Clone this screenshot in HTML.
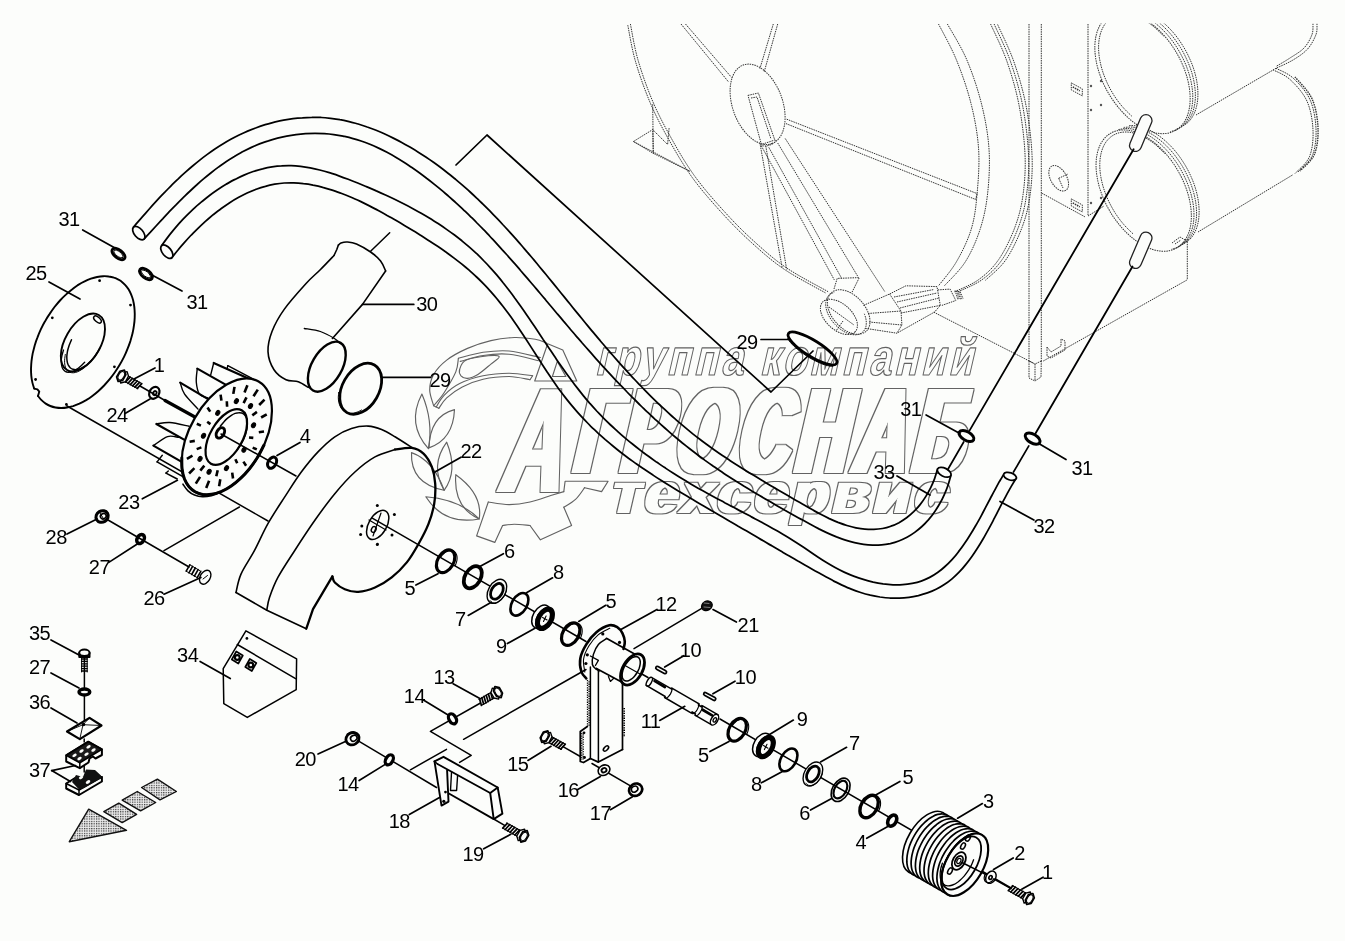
<!DOCTYPE html>
<html><head><meta charset="utf-8"><title>Схема</title>
<style>
html,body{margin:0;padding:0;background:#fcfdfb;}
body{width:1345px;height:941px;overflow:hidden;font-family:"Liberation Sans",sans-serif;}
svg{display:block;opacity:0.999;}
svg text{font-family:"Liberation Sans",sans-serif;}
</style></head><body>
<svg width="1345" height="941" viewBox="0 0 1345 941" stroke-linecap="round" stroke-linejoin="round">
<rect x="0" y="0" width="1345" height="941" fill="#fcfdfb"/>
<g>
<path d="M630.4 24C631.6 29.9 634.2 46.7 637.9 59.6C641.6 72.5 647.2 88.4 652.7 101.3C658.2 114.2 663.7 124.6 670.6 137C677.5 149.4 685.5 163.3 694.4 175.7C703.3 188.1 714.3 200.5 724.2 211.4C734.1 222.3 743.5 231.8 753.9 241.2C764.3 250.6 774.3 259.6 786.7 268C799.1 276.4 821.4 287.8 828.3 291.8" stroke="#333" stroke-width="1.0" fill="none" stroke-dasharray="1.5 0.9" stroke-linecap="butt"/>
<path d="M627.8 25.2C629 31.1 631.6 47.9 635.3 60.8C639 73.7 644.6 89.6 650.1 102.5C655.6 115.4 661 125.8 668 138.2C675 150.6 682.9 164.5 691.8 176.9C700.7 189.3 711.7 201.7 721.6 212.6C731.5 223.5 740.9 233 751.3 242.4C761.7 251.8 771.7 260.8 784.1 269.2C796.5 277.6 818.8 289 825.7 293" stroke="#333" stroke-width="1.0" fill="none" stroke-dasharray="1.5 0.9" stroke-linecap="butt"/>
<path d="M633.4 141.5L652.7 129.6L653.3 153.4Z" stroke="#333" stroke-width="1.0" fill="none" stroke-dasharray="1.5 0.9" stroke-linecap="butt"/>
<line x1="653.3" y1="153.4" x2="689.9" y2="171.3" stroke="#333" stroke-width="1.0" stroke-dasharray="1.5 0.9" stroke-linecap="butt"/>
<line x1="652.7" y1="104.3" x2="653.3" y2="153.4" stroke="#333" stroke-width="1.0" stroke-dasharray="1.5 0.9" stroke-linecap="butt"/>
<path d="M652.7 129.6L667.6 144.5L669.1 128.1" stroke="#333" stroke-width="1.0" fill="none" stroke-dasharray="1.5 0.9" stroke-linecap="butt"/>
<line x1="633.4" y1="141.5" x2="689.9" y2="171.3" stroke="#333" stroke-width="1.0" stroke-dasharray="1.5 0.9" stroke-linecap="butt"/>
<line x1="681" y1="24" x2="728.6" y2="82" stroke="#333" stroke-width="1.0" stroke-dasharray="1.5 0.9" stroke-linecap="butt"/>
<line x1="685.5" y1="24" x2="731.6" y2="77.5" stroke="#333" stroke-width="1.0" stroke-dasharray="1.5 0.9" stroke-linecap="butt"/>
<line x1="773.3" y1="24" x2="759.9" y2="68.6" stroke="#333" stroke-width="1.0" stroke-dasharray="1.5 0.9" stroke-linecap="butt"/>
<line x1="777.7" y1="24" x2="764.3" y2="71.5" stroke="#333" stroke-width="1.0" stroke-dasharray="1.5 0.9" stroke-linecap="butt"/>
<ellipse cx="757.6" cy="104.3" rx="41.8" ry="25" transform="rotate(70 757.6 104.3)" stroke="#333" stroke-width="1.0" fill="none" stroke-dasharray="1.5 0.9" stroke-linecap="butt"/>
<path d="M748 95.4L758.4 93L774.8 140L761.4 144.5Z" stroke="#333" stroke-width="1.0" fill="none" stroke-dasharray="1.5 0.9" stroke-linecap="butt"/>
<path d="M751 98L757 97L771 139" stroke="#333" stroke-width="1.0" fill="none" stroke-dasharray="1.5 0.9" stroke-linecap="butt"/>
<path d="M775.7 139.9C775.7 140.1 775.8 140.4 775.7 140.7C775.7 140.9 775.6 141.2 775.4 141.5C775.3 141.8 775 142 774.8 142.3C774.5 142.6 774.2 142.9 773.8 143.1C773.5 143.4 773.1 143.7 772.6 143.9C772.2 144.1 771.7 144.4 771.2 144.6C770.8 144.8 770.2 145 769.7 145.1C769.2 145.3 768.6 145.5 768.1 145.6C767.6 145.7 767 145.8 766.5 145.9C765.9 145.9 765.4 146 764.9 146C764.4 146 763.9 145.9 763.5 145.9C763.1 145.8 762.6 145.8 762.3 145.7C761.9 145.6 761.6 145.4 761.3 145.3C761 145.1 760.8 144.9 760.6 144.7C760.5 144.5 760.3 144.2 760.3 144.1" stroke="#333" stroke-width="1.0" fill="none" stroke-dasharray="1.5 0.9" stroke-linecap="butt"/>
<line x1="786.7" y1="119.2" x2="977.1" y2="193.6" stroke="#333" stroke-width="1.0" stroke-dasharray="1.5 0.9" stroke-linecap="butt"/>
<line x1="786" y1="123.6" x2="975.7" y2="199.5" stroke="#333" stroke-width="1.0" stroke-dasharray="1.5 0.9" stroke-linecap="butt"/>
<line x1="977.1" y1="193.6" x2="975.7" y2="199.5" stroke="#333" stroke-width="1.0" stroke-dasharray="1.5 0.9" stroke-linecap="butt"/>
<path d="M938.5 24C941.5 29.9 950.8 46.2 956.3 59.6C961.8 73 967.5 89.4 971.2 104.3C974.9 119.2 977.6 134.1 978.6 149C979.6 163.9 978.3 180.2 977.1 193.6C975.9 207 974.7 217.9 971.2 229.3C967.7 240.7 961.8 252.6 956.3 262C950.8 271.4 941.5 281.8 938.5 285.8" stroke="#333" stroke-width="1.0" fill="none" stroke-dasharray="1.5 0.9" stroke-linecap="butt"/>
<path d="M947.4 24C950.6 29.9 961 46.2 966.7 59.6C972.4 73 977.9 89.4 981.6 104.3C985.3 119.2 988 134.1 989 149C990 163.9 989.1 180.2 987.6 193.6C986.1 207 983.8 217.9 980.1 229.3C976.4 240.7 971.2 252.6 965.2 262C959.2 271.4 947.9 281.8 944.4 285.8" stroke="#333" stroke-width="1.0" fill="none" stroke-dasharray="1.5 0.9" stroke-linecap="butt"/>
<path d="M990.6 24C993.3 30.2 1002.1 47.5 1006.8 61C1011.5 74.5 1016 89.5 1019 105C1022 120.5 1024.3 139 1025 154C1025.7 169 1024.7 182.8 1023 195C1021.3 207.2 1019 216.2 1015 227C1011 237.8 1004.8 250.7 998.7 259.5C992.6 268.3 985.9 274.4 978.4 279.8C970.9 285.2 958.1 290 954 292" stroke="#333" stroke-width="1.0" fill="none" stroke-dasharray="1.5 0.9" stroke-linecap="butt"/>
<path d="M994.1 24C996.8 30.2 1005.6 47.5 1010.3 61C1015 74.5 1019.5 89.5 1022.5 105C1025.5 120.5 1027.8 139 1028.5 154C1029.2 169 1028.2 182.8 1026.5 195C1024.8 207.2 1022.5 216.2 1018.5 227C1014.5 237.8 1008.3 250.7 1002.2 259.5C996.1 268.3 989.4 274.4 981.9 279.8C974.4 285.2 961.6 290 957.5 292" stroke="#333" stroke-width="1.0" fill="none" stroke-dasharray="1.5 0.9" stroke-linecap="butt"/>
<path d="M997.6 24.5C1000.3 30.7 1009.1 48 1013.8 61.5C1018.5 75 1023 90 1026 105.5C1029 121 1031.3 139.5 1032 154.5C1032.7 169.5 1031.7 183.3 1030 195.5C1028.3 207.7 1026 216.8 1022 227.5C1018 238.2 1011.8 251.2 1005.7 260C999.6 268.8 988.8 276.9 985.4 280.3" stroke="#333" stroke-width="1.0" fill="none" stroke-dasharray="1.5 0.9" stroke-linecap="butt"/>
<line x1="759.9" y1="143" x2="782.2" y2="268" stroke="#333" stroke-width="1.0" stroke-dasharray="1.5 0.9" stroke-linecap="butt"/>
<line x1="765.8" y1="146" x2="786.7" y2="269.5" stroke="#333" stroke-width="1.0" stroke-dasharray="1.5 0.9" stroke-linecap="butt"/>
<line x1="761.4" y1="146" x2="834.3" y2="279.9" stroke="#333" stroke-width="1.0" stroke-dasharray="1.5 0.9" stroke-linecap="butt"/>
<line x1="768.8" y1="147.4" x2="841.7" y2="278.4" stroke="#333" stroke-width="1.0" stroke-dasharray="1.5 0.9" stroke-linecap="butt"/>
<line x1="777.7" y1="143" x2="858.1" y2="276.9" stroke="#333" stroke-width="1.0" stroke-dasharray="1.5 0.9" stroke-linecap="butt"/>
<line x1="785.2" y1="138.5" x2="884.9" y2="291.8" stroke="#333" stroke-width="1.0" stroke-dasharray="1.5 0.9" stroke-linecap="butt"/>
<ellipse cx="838.9" cy="316.9" rx="22" ry="13" transform="rotate(42 838.9 316.9)" stroke="#333" stroke-width="1.0" fill="none" stroke-dasharray="1.5 0.9" stroke-linecap="butt"/>
<ellipse cx="848.7" cy="312" rx="26" ry="16.5" transform="rotate(48 848.7 312)" stroke="#333" stroke-width="1.0" fill="none" stroke-dasharray="1.5 0.9" stroke-linecap="butt"/>
<path d="M864.3 313.8C864.6 314.6 865.5 316.9 865.8 318.4C866.1 319.8 866.3 321.3 866.3 322.7C866.3 324.1 866.2 325.4 865.9 326.6C865.6 327.8 865.1 328.9 864.5 329.9C864 330.9 863.2 331.7 862.3 332.4C861.5 333.1 860.5 333.7 859.4 334.1C858.3 334.5 857.1 334.7 855.8 334.8C854.5 334.8 853.1 334.7 851.7 334.5C850.3 334.2 848.9 333.8 847.4 333.2C846 332.6 844.5 331.9 843 331C841.6 330.1 840.2 329.1 838.8 328C837.4 326.9 836.1 325.6 834.9 324.3C833.7 323 832.5 321.6 831.5 320.2C830.5 318.7 829.6 317.2 828.8 315.7C828 314.2 827.4 312.6 826.9 311.1C826.4 309.6 826 308 825.9 306.6C825.7 305.2 825.6 303.7 825.8 302.4C825.9 301.1 826.2 299.9 826.6 298.8C827.1 297.7 827.7 296.7 828.4 295.8C829.1 295 830 294.3 830.9 293.7C831.9 293.2 833.7 292.7 834.2 292.5" stroke="#333" stroke-width="1.0" fill="none" stroke-dasharray="1.5 0.9" stroke-linecap="butt"/>
<line x1="829" y1="307" x2="854" y2="325" stroke="#333" stroke-width="1.0" stroke-dasharray="1.5 0.9" stroke-linecap="butt"/>
<line x1="843" y1="321" x2="836" y2="331" stroke="#333" stroke-width="1.0" stroke-dasharray="1.5 0.9" stroke-linecap="butt"/>
<path d="M834 289L837.2 278.4L859.3 277.6L852 292.3" stroke="#333" stroke-width="1.0" fill="none" stroke-dasharray="1.5 0.9" stroke-linecap="butt"/>
<path d="M863.4 305.4L889.6 294L901 311.1L901.9 325L896.9 333.2L865 328.3" stroke="#333" stroke-width="1.0" fill="none" stroke-dasharray="1.5 0.9" stroke-linecap="butt"/>
<line x1="868" y1="313.5" x2="901" y2="311" stroke="#333" stroke-width="1.0" stroke-dasharray="1.5 0.9" stroke-linecap="butt"/>
<line x1="869" y1="322" x2="901.9" y2="325" stroke="#333" stroke-width="1.0" stroke-dasharray="1.5 0.9" stroke-linecap="butt"/>
<path d="M889.6 294L905.9 285.8L937 286.6L940.3 305.4L934.6 312L896.9 333.2" stroke="#333" stroke-width="1.0" fill="none" stroke-dasharray="1.5 0.9" stroke-linecap="butt"/>
<line x1="894" y1="297" x2="934" y2="289.5" stroke="#333" stroke-width="1.0" stroke-dasharray="1.5 0.9" stroke-linecap="butt"/>
<line x1="897" y1="302" x2="937" y2="293" stroke="#333" stroke-width="1.0" stroke-dasharray="1.5 0.9" stroke-linecap="butt"/>
<line x1="900" y1="308" x2="939" y2="298" stroke="#333" stroke-width="1.0" stroke-dasharray="1.5 0.9" stroke-linecap="butt"/>
<line x1="901" y1="313" x2="940.3" y2="305.4" stroke="#333" stroke-width="1.0" stroke-dasharray="1.5 0.9" stroke-linecap="butt"/>
<path d="M937.8 289.9L950.1 289.1L955.8 300.5L941.9 305.4" stroke="#333" stroke-width="1.0" fill="none" stroke-dasharray="1.5 0.9" stroke-linecap="butt"/>
<line x1="955" y1="290.5" x2="958" y2="300" stroke="#333" stroke-width="0.9" stroke-dasharray="1.5 0.9" stroke-linecap="butt"/>
<line x1="956.3" y1="290.8" x2="959.3" y2="299.7" stroke="#333" stroke-width="0.9" stroke-dasharray="1.5 0.9" stroke-linecap="butt"/>
<line x1="957.6" y1="291.1" x2="960.6" y2="299.4" stroke="#333" stroke-width="0.9" stroke-dasharray="1.5 0.9" stroke-linecap="butt"/>
<line x1="958.9" y1="291.4" x2="961.9" y2="299.1" stroke="#333" stroke-width="0.9" stroke-dasharray="1.5 0.9" stroke-linecap="butt"/>
<line x1="960.2" y1="291.7" x2="963.2" y2="298.8" stroke="#333" stroke-width="0.9" stroke-dasharray="1.5 0.9" stroke-linecap="butt"/>
<line x1="1029" y1="24" x2="1029" y2="361" stroke="#333" stroke-width="1.0" stroke-dasharray="1.5 0.9" stroke-linecap="butt"/>
<line x1="1041.3" y1="24" x2="1041.3" y2="361" stroke="#333" stroke-width="1.0" stroke-dasharray="1.5 0.9" stroke-linecap="butt"/>
<line x1="1088" y1="24" x2="1088" y2="216" stroke="#333" stroke-width="1.0" stroke-dasharray="1.5 0.9" stroke-linecap="butt"/>
<line x1="1041.5" y1="193" x2="1085.2" y2="217" stroke="#333" stroke-width="1.0" stroke-dasharray="1.5 0.9" stroke-linecap="butt"/>
<line x1="1088" y1="216" x2="1104" y2="206" stroke="#333" stroke-width="1.0" stroke-dasharray="1.5 0.9" stroke-linecap="butt"/>
<line x1="933.8" y1="312.2" x2="1033.2" y2="363" stroke="#333" stroke-width="1.0" stroke-dasharray="1.5 0.9" stroke-linecap="butt"/>
<line x1="1043.3" y1="361" x2="1187.3" y2="279.8" stroke="#333" stroke-width="1.0" stroke-dasharray="1.5 0.9" stroke-linecap="butt"/>
<line x1="1187.3" y1="239" x2="1187.3" y2="280" stroke="#333" stroke-width="1.0" stroke-dasharray="1.5 0.9" stroke-linecap="butt"/>
<path d="M1029 361L1029 378L1035 381L1041 377L1041.3 361" stroke="#333" stroke-width="1.0" fill="none" stroke-dasharray="1.5 0.9" stroke-linecap="butt"/>
<path d="M1029 361L1035 364L1041.3 361" stroke="#333" stroke-width="1.0" fill="none" stroke-dasharray="1.5 0.9" stroke-linecap="butt"/>
<line x1="1035" y1="364" x2="1035" y2="381" stroke="#333" stroke-width="1.0" stroke-dasharray="1.5 0.9" stroke-linecap="butt"/>
<path d="M1047 347L1047 356L1051 358L1065 350L1065 341L1061 339L1061 346L1051 352L1047 347" stroke="#333" stroke-width="1.0" fill="none" stroke-dasharray="1.5 0.9" stroke-linecap="butt"/>
<ellipse cx="1058.7" cy="178.3" rx="14" ry="8" transform="rotate(60 1058.7 178.3)" stroke="#333" stroke-width="1.0" fill="none" stroke-dasharray="1.5 0.9" stroke-linecap="butt"/>
<line x1="1058.7" y1="178.3" x2="1068" y2="174" stroke="#333" stroke-width="1.0" stroke-dasharray="1.5 0.9" stroke-linecap="butt"/>
<line x1="1058.7" y1="178.3" x2="1063" y2="188" stroke="#333" stroke-width="1.0" stroke-dasharray="1.5 0.9" stroke-linecap="butt"/>
<path d="M1071.3 82.9L1082.3 88.9L1082.3 95.9L1071.3 89.9Z" stroke="#333" stroke-width="1.0" fill="none" stroke-dasharray="1.5 0.9" stroke-linecap="butt"/>
<line x1="1072.8" y1="86.9" x2="1079.8" y2="90.9" stroke="#333" stroke-width="1.6" stroke-dasharray="1.5 0.9" stroke-linecap="butt"/>
<path d="M1071.3 198.9L1082.3 204.9L1082.3 211.9L1071.3 205.9Z" stroke="#333" stroke-width="1.0" fill="none" stroke-dasharray="1.5 0.9" stroke-linecap="butt"/>
<line x1="1072.8" y1="202.9" x2="1079.8" y2="206.9" stroke="#333" stroke-width="1.6" stroke-dasharray="1.5 0.9" stroke-linecap="butt"/>
<circle cx="1091" cy="86" r="1.2" fill="#555"/>
<circle cx="1101" cy="81" r="1.2" fill="#555"/>
<circle cx="1091" cy="110" r="1.2" fill="#555"/>
<circle cx="1101" cy="105" r="1.2" fill="#555"/>
<circle cx="1091" cy="203" r="1.2" fill="#555"/>
<circle cx="1101" cy="198" r="1.2" fill="#555"/>
<clipPath id="cl"><rect x="0" y="23.5" width="1345" height="920"/></clipPath><g clip-path="url(#cl)">
<ellipse cx="1142.5" cy="73" rx="66.2" ry="39.6" transform="rotate(60 1142.5 73)" stroke="#333" stroke-width="1.0" fill="none" stroke-dasharray="1.5 0.9" stroke-linecap="butt"/>
<path d="M1117.1 12C1118.6 11.8 1122.8 10.8 1125.9 10.9C1129 11 1132.3 11.5 1135.6 12.5C1138.9 13.5 1142.4 15 1145.8 16.9C1149.2 18.7 1152.6 21.1 1155.9 23.7C1159.2 26.4 1162.5 29.4 1165.5 32.7C1168.6 36 1171.5 39.7 1174.2 43.5C1176.9 47.3 1179.4 51.5 1181.5 55.6C1183.7 59.8 1185.7 64.1 1187.2 68.4C1188.8 72.7 1190.1 77.1 1191 81.4C1191.9 85.6 1192.5 89.8 1192.7 93.8C1192.9 97.8 1192.7 101.7 1192.2 105.3C1191.7 108.9 1190.8 112.3 1189.5 115.2C1188.3 118.2 1186.7 120.9 1184.9 123.2C1183 125.4 1180.8 127.3 1178.4 128.7C1175.9 130.2 1171.7 131.2 1170.3 131.7" stroke="#333" stroke-width="1.0" fill="none" stroke-dasharray="1.5 0.9" stroke-linecap="butt"/>
<path d="M1122.5 9.8C1124 9.8 1128.6 9.2 1131.9 9.6C1135.1 10.1 1138.6 11 1142 12.3C1145.5 13.7 1149 15.6 1152.5 17.8C1155.9 20.1 1159.4 22.8 1162.7 25.8C1165.9 28.8 1169.2 32.3 1172.2 35.9C1175.1 39.6 1178 43.6 1180.5 47.6C1183 51.7 1185.3 56.1 1187.2 60.5C1189.2 64.8 1190.8 69.3 1192.1 73.7C1193.3 78.1 1194.3 82.6 1194.8 86.8C1195.3 91 1195.5 95.2 1195.3 99.1C1195 103 1194.4 106.7 1193.4 110C1192.5 113.3 1191.1 116.3 1189.4 118.9C1187.8 121.5 1185.7 123.8 1183.4 125.6C1181.1 127.3 1177 128.9 1175.7 129.5" stroke="#333" stroke-width="1.0" fill="none" stroke-dasharray="1.5 0.9" stroke-linecap="butt"/>
<path d="M1127.9 7.9C1129.5 8 1134 7.9 1137.2 8.6C1140.4 9.2 1143.7 10.4 1147 11.9C1150.3 13.4 1153.7 15.3 1156.9 17.6C1160.2 19.9 1163.5 22.6 1166.6 25.6C1169.7 28.5 1172.8 31.9 1175.6 35.4C1178.4 38.9 1181 42.8 1183.4 46.7C1185.8 50.6 1188 54.8 1189.8 59C1191.7 63.1 1193.3 67.4 1194.5 71.6C1195.7 75.8 1196.7 80.1 1197.2 84.1C1197.8 88.2 1198 92.2 1197.9 96C1197.8 99.7 1197.3 103.4 1196.5 106.6C1195.7 109.9 1194.6 113 1193.1 115.6C1191.7 118.2 1189.9 120.6 1187.9 122.5C1185.8 124.4 1182.1 126.3 1180.9 127.1" stroke="#333" stroke-width="1.0" fill="none" stroke-dasharray="1.5 0.9" stroke-linecap="butt"/>
<path d="M1131.8 116.2C1130.2 114.7 1125.4 110.2 1122.5 106.8C1119.5 103.4 1116.7 99.6 1114.2 95.7C1111.7 91.8 1109.4 87.6 1107.4 83.4C1105.5 79.2 1103.7 74.9 1102.4 70.6C1101.1 66.4 1100.1 62.1 1099.4 57.9C1098.8 53.8 1098.5 49.7 1098.6 46C1098.7 42.2 1099.2 38.5 1100 35.3C1100.8 32 1102 29 1103.5 26.4C1105 23.8 1106.9 21.6 1109 19.8C1111.1 18 1113.6 16.6 1116.2 15.7C1118.9 14.8 1121.8 14.4 1124.8 14.4C1127.8 14.4 1131 15 1134.3 15.9C1137.5 16.9 1140.9 18.4 1144.2 20.2C1147.6 22.1 1151 24.4 1154.2 27C1157.4 29.7 1162.1 34.6 1163.7 36.1" stroke="#333" stroke-width="1.0" fill="none" stroke-dasharray="1.5 0.9" stroke-linecap="butt"/>
<ellipse cx="1143.7" cy="190.6" rx="66.2" ry="39.6" transform="rotate(60 1143.7 190.6)" stroke="#333" stroke-width="1.0" fill="none" stroke-dasharray="1.5 0.9" stroke-linecap="butt"/>
<path d="M1118.3 129.6C1119.8 129.4 1124 128.4 1127.1 128.5C1130.2 128.6 1133.5 129.1 1136.8 130.1C1140.1 131.1 1143.6 132.6 1147 134.5C1150.4 136.3 1153.8 138.7 1157.1 141.3C1160.4 144 1163.7 147 1166.7 150.3C1169.8 153.6 1172.7 157.3 1175.4 161.1C1178.1 164.9 1180.6 169.1 1182.7 173.2C1184.9 177.4 1186.9 181.7 1188.4 186C1190 190.3 1191.3 194.7 1192.2 199C1193.1 203.2 1193.7 207.4 1193.9 211.4C1194.1 215.4 1193.9 219.3 1193.4 222.9C1192.9 226.5 1192 229.9 1190.7 232.8C1189.5 235.8 1187.9 238.5 1186.1 240.8C1184.2 243 1182 244.9 1179.6 246.3C1177.1 247.8 1172.9 248.8 1171.5 249.3" stroke="#333" stroke-width="1.0" fill="none" stroke-dasharray="1.5 0.9" stroke-linecap="butt"/>
<path d="M1123.7 127.4C1125.2 127.4 1129.8 126.8 1133.1 127.2C1136.3 127.7 1139.8 128.6 1143.2 129.9C1146.7 131.3 1150.2 133.2 1153.7 135.4C1157.1 137.7 1160.6 140.4 1163.9 143.4C1167.1 146.4 1170.4 149.9 1173.4 153.5C1176.3 157.2 1179.2 161.2 1181.7 165.2C1184.2 169.3 1186.5 173.7 1188.4 178.1C1190.4 182.4 1192 186.9 1193.3 191.3C1194.5 195.7 1195.5 200.2 1196 204.4C1196.5 208.6 1196.7 212.8 1196.5 216.7C1196.2 220.6 1195.6 224.3 1194.6 227.6C1193.7 230.9 1192.3 233.9 1190.6 236.5C1189 239.1 1186.9 241.4 1184.6 243.2C1182.3 244.9 1178.2 246.5 1176.9 247.1" stroke="#333" stroke-width="1.0" fill="none" stroke-dasharray="1.5 0.9" stroke-linecap="butt"/>
<path d="M1129.1 125.5C1130.7 125.6 1135.2 125.5 1138.4 126.2C1141.6 126.8 1144.9 128 1148.2 129.5C1151.5 131 1154.9 132.9 1158.1 135.2C1161.4 137.5 1164.7 140.2 1167.8 143.2C1170.9 146.1 1174 149.5 1176.8 153C1179.6 156.5 1182.2 160.4 1184.6 164.3C1187 168.2 1189.2 172.4 1191 176.6C1192.9 180.7 1194.5 185 1195.7 189.2C1196.9 193.4 1197.9 197.7 1198.4 201.7C1199 205.8 1199.2 209.8 1199.1 213.6C1199 217.3 1198.5 221 1197.7 224.2C1196.9 227.5 1195.8 230.6 1194.3 233.2C1192.9 235.8 1191.1 238.2 1189.1 240.1C1187 242 1183.3 243.9 1182.1 244.7" stroke="#333" stroke-width="1.0" fill="none" stroke-dasharray="1.5 0.9" stroke-linecap="butt"/>
<path d="M1133 233.8C1131.4 232.3 1126.6 227.8 1123.7 224.4C1120.7 221 1117.9 217.2 1115.4 213.3C1112.9 209.4 1110.6 205.2 1108.6 201C1106.7 196.8 1104.9 192.5 1103.6 188.2C1102.3 184 1101.3 179.7 1100.6 175.5C1100 171.4 1099.7 167.3 1099.8 163.6C1099.9 159.8 1100.4 156.1 1101.2 152.9C1102 149.6 1103.2 146.6 1104.7 144C1106.2 141.4 1108.1 139.2 1110.2 137.4C1112.3 135.6 1114.8 134.2 1117.4 133.3C1120.1 132.4 1123 132 1126 132C1129 132 1132.2 132.6 1135.5 133.5C1138.7 134.5 1142.1 136 1145.4 137.8C1148.8 139.7 1152.2 142 1155.4 144.6C1158.6 147.3 1163.3 152.2 1164.9 153.7" stroke="#333" stroke-width="1.0" fill="none" stroke-dasharray="1.5 0.9" stroke-linecap="butt"/>
<line x1="1196" y1="115" x2="1276" y2="68.3" stroke="#333" stroke-width="1.0" stroke-dasharray="1.5 0.9" stroke-linecap="butt"/>
<line x1="1198" y1="232" x2="1293" y2="174.7" stroke="#333" stroke-width="1.0" stroke-dasharray="1.5 0.9" stroke-linecap="butt"/>
<path d="M1317 23.6C1316.8 25.4 1317.6 30.3 1316 34.5C1314.4 38.7 1311.4 44.8 1307.6 49C1303.8 53.2 1298.3 56.8 1293 60C1287.7 63.2 1278.8 66.9 1276 68.3" stroke="#333" stroke-width="1.0" fill="none" stroke-dasharray="1.5 0.9" stroke-linecap="butt"/>
<path d="M1313 23.6C1312.8 25.4 1313.5 30.4 1312 34.5C1310.5 38.6 1307.7 44.1 1304 48C1300.3 51.9 1294.7 54.9 1290 58C1285.3 61.1 1278.3 65.1 1276 66.5" stroke="#333" stroke-width="1.0" fill="none" stroke-dasharray="1.5 0.9" stroke-linecap="butt"/>
<path d="M1276 68.3C1278.8 69.9 1287.3 72.8 1293 78C1298.7 83.2 1306.2 91.2 1310 99.7C1313.8 108.2 1315.6 119.4 1316 128.7C1316.4 138 1315.4 148.1 1312.4 155.3C1309.4 162.5 1300.4 169.2 1298 172" stroke="#333" stroke-width="1.0" fill="none" stroke-dasharray="1.5 0.9" stroke-linecap="butt"/>
<path d="M1273 69.8C1275.8 71.4 1284.3 74.3 1290 79.5C1295.7 84.7 1303.2 92.8 1307 101.2C1310.8 109.7 1312.6 120.9 1313 130.2C1313.4 139.5 1312.4 149.6 1309.4 156.8C1306.4 164 1297.4 170.7 1295 173.5" stroke="#333" stroke-width="1.0" fill="none" stroke-dasharray="1.5 0.9" stroke-linecap="butt"/>
<path d="M1295 77C1297.8 80.6 1308.2 90.2 1312 98.7C1315.8 107.2 1317.6 118.4 1318 127.7C1318.4 137 1317.4 147.1 1314.4 154.3C1311.4 161.5 1302.4 168.2 1300 171" stroke="#333" stroke-width="1.4" fill="none" stroke-dasharray="1.5 0.9" stroke-linecap="butt"/>
</g>
<line x1="1146" y1="120.5" x2="1135.5" y2="145.5" stroke="#222" stroke-width="13.2" stroke-linecap="round"/>
<line x1="1146" y1="120.5" x2="1135.5" y2="145.5" stroke="#fcfdfb" stroke-width="10.6" stroke-linecap="round"/>
<line x1="1146" y1="238" x2="1135.5" y2="262.5" stroke="#222" stroke-width="13.2" stroke-linecap="round"/>
<line x1="1146" y1="238" x2="1135.5" y2="262.5" stroke="#fcfdfb" stroke-width="10.6" stroke-linecap="round"/>
<path d="M1172 243L1180 237L1186 240.5L1178 247" stroke="#333" stroke-width="1.0" fill="none" stroke-dasharray="1.5 0.9" stroke-linecap="butt"/>
<path d="M1175 244L1181 240" stroke="#333" stroke-width="1.0" fill="none" stroke-dasharray="1.5 0.9" stroke-linecap="butt"/>
</g>
<defs>
<filter id="wf1" x="-5%" y="-20%" width="110%" height="140%" filterUnits="objectBoundingBox">
<feMorphology in="SourceAlpha" operator="dilate" radius="1 0" result="fat"/>
<feMorphology in="fat" operator="dilate" radius="1.25 1.25" result="fat2"/>
<feComposite in="fat2" in2="fat" operator="out" result="ring"/>
<feFlood flood-color="#626262" result="col"/><feComposite in="col" in2="ring" operator="in"/></filter>
<filter id="wf2" x="-5%" y="-20%" width="110%" height="140%" filterUnits="objectBoundingBox">
<feMorphology in="SourceAlpha" operator="dilate" radius="3.6 0" result="fat"/>
<feMorphology in="fat" operator="dilate" radius="1.25 1.25" result="fat2"/>
<feComposite in="fat2" in2="fat" operator="out" result="ring"/>
<feFlood flood-color="#626262" result="col"/><feComposite in="col" in2="ring" operator="in"/></filter>
<filter id="wf3" x="-5%" y="-20%" width="110%" height="140%" filterUnits="objectBoundingBox">
<feMorphology in="SourceAlpha" operator="dilate" radius="3 0" result="fat"/>
<feMorphology in="fat" operator="dilate" radius="1.25 1.25" result="fat2"/>
<feComposite in="fat2" in2="fat" operator="out" result="ring"/>
<feFlood flood-color="#626262" result="col"/><feComposite in="col" in2="ring" operator="in"/></filter>
<filter id="wf4" x="-5%" y="-20%" width="110%" height="140%" filterUnits="objectBoundingBox">
<feMorphology in="SourceAlpha" operator="dilate" radius="1.5 0.3" result="fat"/>
<feMorphology in="fat" operator="dilate" radius="1.25 1.25" result="fat2"/>
<feComposite in="fat2" in2="fat" operator="out" result="ring"/>
<feFlood flood-color="#626262" result="col"/><feComposite in="col" in2="ring" operator="in"/></filter>
</defs>
<text transform="translate(594.5 375.3) skewX(-13) scale(0.78 1)" font-size="51.5" font-weight="bold" letter-spacing="3.6" fill="none" stroke="#626262" stroke-width="1.25">группа компаний</text>
<g filter="url(#wf3)"><text transform="translate(497 491.8) skewX(-13) scale(0.562 1)" font-size="149.5" font-weight="bold" letter-spacing="0" fill="#000">А</text></g>
<g filter="url(#wf2)"><text transform="translate(570.5 473) skewX(-13) scale(0.582 1)" font-size="122" font-weight="bold" letter-spacing="12.2" fill="#000">ГРОСНАБ</text></g>
<g filter="url(#wf4)"><text transform="translate(608.5 513) skewX(-13) scale(1.045 1)" font-size="57.5" font-weight="bold" letter-spacing="3.8" fill="#000">техсервис</text></g>
<path d="M433.6 405.7C433 403.1 429.7 395.3 429.7 390.1C429.7 384.9 430.8 379.5 433.6 374.5C436.5 369.5 441 364.5 446.7 360.1C452.3 355.8 460.1 351.7 467.5 348.4C474.9 345.2 483.1 342.4 490.9 340.6C498.7 338.8 507 337.7 514.3 337.5C521.7 337.3 529.8 338.4 535.2 339.3C540.6 340.3 544.9 342.6 546.9 343.2" stroke="#626262" stroke-width="1.15" fill="none" />
<path d="M436.2 407C437.5 405.1 440.1 399.2 444.1 395.3C448 391.4 453.2 386.8 459.7 383.6C466.2 380.3 474.9 377.5 483.1 375.8C491.3 374 500.9 373.2 509.1 373.2C517.4 373.2 528.7 375.3 532.6 375.8" stroke="#626262" stroke-width="1.15" fill="none" />
<path d="M438.8 408.3C440.1 406.6 442.8 401.5 446.7 397.9C450.6 394.3 456.2 390.1 462.3 387C468.4 383.8 475.3 380.9 483.1 379.2C490.9 377.4 501.3 376.5 509.1 376.5C517 376.6 526.5 379.2 530 379.7" stroke="#626262" stroke-width="1.15" fill="none" />
<path d="M532.6 375.8L530 379.7" stroke="#626262" stroke-width="1.15" fill="none" />
<path d="M433.6 405.7L436.2 407L438.8 408.3" stroke="#626262" stroke-width="1.15" fill="none" />
<path d="M458.4 358.3C457.9 360.6 458.2 366.1 455.8 371.9C453.4 377.6 447.7 387.1 444.1 392.7C440.5 398.2 435.8 403.1 434.2 405.2" stroke="#626262" stroke-width="1.15" fill="none" />
<path d="M458.4 358.3C462.5 357.3 474.6 353.6 483.1 352.3C491.6 351.1 499.6 350.2 509.1 351C518.7 351.9 535.2 356.5 540.4 357.5" stroke="#626262" stroke-width="1.15" fill="none" />
<path d="M460.2 361.4C464 360.5 474.9 356.7 483.1 355.5C491.3 354.2 499.9 353.3 509.1 354.2C518.3 355 533.4 359.6 538.3 360.7" stroke="#626262" stroke-width="1.15" fill="none" />
<path d="M459.7 369.3C460.5 366.7 461.4 362.4 466.2 360.1C471 357.9 482.8 356.3 488.3 355.7C493.8 355.2 498.8 355.4 499.2 356.8C499.7 358.2 494.5 361.1 490.9 364.1C487.4 367 481.8 372.1 477.9 374.5C474 376.9 470.3 378.2 467.5 378.4C464.7 378.6 462.3 377.3 461 375.8C459.7 374.2 458.8 371.9 459.7 369.3Z" stroke="#626262" stroke-width="1.15" fill="none" />
<path d="M547.7 343.7L562.8 350L576.8 381L534.7 381Z" stroke="#626262" stroke-width="1.15" fill="none" />
<path d="M557.3 361.4L565.9 376.5L552.4 376.5Z" stroke="#626262" stroke-width="1.15" fill="none" />
<path d="M421.9 394Q406.3 423.9 428.4 448.7Q433.6 421.3 421.9 394Z" fill="none" stroke="#626262" stroke-width="1.15"/>
<path d="M454.5 409.6Q429.7 416.1 429 447.9Q453.2 439.6 454.5 409.6Z" fill="none" stroke="#626262" stroke-width="1.15"/>
<path d="M411.5 452.6Q410.2 483.8 444.1 490.3Q433.6 460.4 411.5 452.6Z" fill="none" stroke="#626262" stroke-width="1.15"/>
<path d="M446.7 442.2Q429.7 465.6 444.1 490.3Q458.4 470.8 446.7 442.2Z" fill="none" stroke="#626262" stroke-width="1.15"/>
<path d="M455.8 474.7Q453.2 507.2 479.2 519Q483.1 494.2 455.8 474.7Z" fill="none" stroke="#626262" stroke-width="1.15"/>
<path d="M425.8 496.8Q444.1 525.5 479.2 519Q459.7 499.4 425.8 496.8Z" fill="none" stroke="#626262" stroke-width="1.15"/>
<path d="M488.3 502C491.8 502.5 502.2 504.6 509.1 504.6C516.1 504.6 523 503.6 530 502C536.9 500.5 545.2 497.3 550.8 495.5C556.4 493.8 561.6 492.3 563.8 491.6" stroke="#626262" stroke-width="1.15" fill="none" />
<path d="M563.8 491.6L565.1 481.2L608.1 481.2L601.6 491.6L584.6 487.7" stroke="#626262" stroke-width="1.15" fill="none" />
<path d="M584.6 487.7C583.1 489.7 579 496.2 575.5 499.4C572.1 502.7 565.8 505.9 563.8 507.2" stroke="#626262" stroke-width="1.15" fill="none" />
<path d="M563.8 507.2L571.6 525.5L540.4 539.8L530 525.5" stroke="#626262" stroke-width="1.15" fill="none" />
<path d="M530 525.5C527.4 525.3 518.9 524.2 514.3 524.2C509.8 524.2 504.6 525.3 502.6 525.5" stroke="#626262" stroke-width="1.15" fill="none" />
<path d="M502.6 525.5L494.8 542.4L476.6 535.9L488.3 502" stroke="#626262" stroke-width="1.15" fill="none" />
<path d="M133.6 227C134.6 225.8 137.7 222.2 139.7 219.9C141.7 217.5 143.8 215.1 145.9 212.8C148 210.4 150.1 208.1 152.2 205.7C154.3 203.4 156.4 201.1 158.6 198.7C160.7 196.4 162.9 194.1 165.1 191.9C167.3 189.6 169.5 187.4 171.7 185.1C174 182.9 176.2 180.7 178.5 178.6C180.8 176.4 183.1 174.3 185.5 172.2C187.8 170.1 190.2 168 192.6 166C195 164 197.4 162 199.8 160.1C202.3 158.1 204.8 156.2 207.3 154.4C209.8 152.6 212.3 150.8 214.9 149C217.5 147.3 220.1 145.6 222.8 144C225.4 142.4 228.1 140.8 230.8 139.3C233.5 137.8 236.3 136.4 239.1 135C241.9 133.7 244.7 132.4 247.6 131.1C250.4 129.9 253.3 128.8 256.3 127.7C259.2 126.6 262.2 125.6 265.2 124.7C268.2 123.8 271.3 123 274.3 122.2C277.4 121.5 280.5 120.8 283.6 120.2C286.7 119.6 289.8 119.1 293 118.7C296.1 118.3 299.2 118 302.4 117.8C305.5 117.5 308.7 117.4 311.8 117.4C315 117.3 318.1 117.4 321.3 117.5C324.4 117.7 327.5 118 330.6 118.3C333.8 118.7 336.9 119.1 339.9 119.7C343 120.2 346.1 120.9 349.1 121.6C352.2 122.3 355.2 123.2 358.2 124C361.2 124.9 364.2 125.9 367.2 127C370.2 128 373.1 129.1 376.1 130.3C379 131.5 381.9 132.7 384.8 134C387.6 135.3 390.5 136.7 393.3 138.1C396.1 139.5 398.9 140.9 401.7 142.4C404.5 143.9 407.2 145.5 409.9 147.1C412.6 148.7 415.3 150.3 417.9 151.9C420.6 153.6 423.2 155.3 425.8 157C428.4 158.8 430.9 160.5 433.5 162.3C436 164.1 438.5 165.9 441 167.8C443.5 169.7 445.9 171.6 448.3 173.5C450.8 175.4 453.2 177.4 455.6 179.3C458 181.3 460.3 183.3 462.7 185.4C465 187.4 467.3 189.5 469.6 191.5C471.9 193.6 474.2 195.7 476.4 197.9C478.7 200 480.9 202.2 483.2 204.3C485.4 206.5 487.6 208.7 489.8 210.9C492 213.2 494.1 215.4 496.3 217.7C498.5 219.9 500.6 222.2 502.7 224.5C504.9 226.8 507 229.1 509.1 231.4C511.2 233.7 513.3 236.1 515.4 238.4C517.5 240.8 519.5 243.2 521.6 245.5C523.6 247.9 525.7 250.3 527.7 252.7C529.8 255.1 531.8 257.5 533.9 259.9C535.9 262.3 537.9 264.8 539.9 267.2C541.9 269.6 544 272.1 546 274.5C548 277 550 279.4 552 281.9C554 284.3 556 286.8 558 289.3C560 291.7 562 294.2 564 296.6C566 299.1 568 301.6 570 304C571.9 306.5 573.9 309 575.9 311.4C578 313.9 580 316.3 582 318.8C584 321.2 586 323.7 588 326.1C590 328.6 592 331 594.1 333.4C596.1 335.8 598.1 338.3 600.2 340.7C602.2 343.1 604.3 345.5 606.3 347.9C608.4 350.3 610.4 352.7 612.5 355C614.6 357.4 616.7 359.8 618.7 362.1C620.8 364.5 622.9 366.8 625 369.1C627.2 371.4 629.3 373.8 631.4 376.1C633.5 378.4 635.7 380.6 637.8 382.9C640 385.2 642.2 387.4 644.3 389.6C646.5 391.9 648.7 394.1 650.9 396.3C653.1 398.5 655.4 400.7 657.6 402.8C659.9 405 662.1 407.1 664.4 409.2C666.7 411.4 668.9 413.5 671.2 415.5C673.6 417.6 675.9 419.7 678.2 421.7C680.6 423.7 682.9 425.7 685.3 427.7C687.7 429.7 690.1 431.6 692.5 433.6C694.9 435.5 697.3 437.4 699.8 439.3C702.2 441.2 704.7 443 707.2 444.8C709.7 446.7 712.2 448.4 714.8 450.2C717.3 452 719.9 453.8 722.4 455.5C725 457.2 727.6 459 730.2 460.7C732.8 462.4 735.4 464.1 738.1 465.7C740.7 467.4 743.4 469.1 746 470.7C748.7 472.4 751.4 474 754.1 475.6C756.8 477.3 759.5 478.9 762.2 480.5C764.9 482.1 767.6 483.7 770.4 485.4C773.1 487 775.9 488.6 778.6 490.2C781.4 491.8 784.2 493.4 786.9 495C789.7 496.6 792.5 498.3 795.3 499.9C798.1 501.5 800.9 503.2 803.7 504.8C806.5 506.4 809.3 508 812.1 509.6C815 511.2 817.8 512.8 820.7 514.3C823.5 515.8 826.4 517.2 829.3 518.6C832.2 519.9 835.1 521.2 838 522.4C841 523.5 844 524.6 846.9 525.5C849.9 526.4 852.9 527.2 855.9 527.8C858.9 528.4 861.9 528.9 864.9 529.1C867.9 529.4 870.9 529.5 873.8 529.4C876.7 529.3 879.6 529 882.5 528.5C885.4 528 888.2 527.2 890.9 526.2C893.7 525.3 896.4 524.1 899 522.7C901.6 521.2 904.2 519.6 906.6 517.8C909.1 516 911.4 513.9 913.7 511.7C915.9 509.5 918.1 507.1 920.1 504.6C922.1 502.1 924 499.4 925.7 496.6C927.5 493.8 929.1 490.9 930.6 487.9C932.1 484.9 933.4 481.8 934.6 478.6C935.7 475.5 937.1 470.6 937.6 469" stroke="#000" stroke-width="1.75" fill="none" />
<path d="M144 239.1C145 238 148.1 234.6 150.2 232.4C152.3 230.1 154.4 227.8 156.5 225.5C158.6 223.2 160.7 220.9 162.9 218.6C165 216.3 167.2 214 169.3 211.7C171.5 209.4 173.7 207.1 176 204.9C178.2 202.6 180.4 200.3 182.7 198.1C185 195.9 187.3 193.6 189.6 191.5C191.9 189.3 194.2 187.1 196.6 185C199 182.8 201.4 180.7 203.8 178.7C206.2 176.6 208.7 174.6 211.1 172.7C213.6 170.7 216.1 168.8 218.7 166.9C221.2 165.1 223.8 163.2 226.4 161.5C229 159.8 231.7 158.1 234.4 156.5C237 154.8 239.8 153.3 242.5 151.8C245.3 150.4 248.1 149 250.9 147.6C253.7 146.3 256.6 145.1 259.5 143.9C262.4 142.8 265.4 141.7 268.4 140.8C271.4 139.8 274.4 139 277.5 138.2C280.5 137.4 283.6 136.7 286.7 136.1C289.8 135.5 293 135 296.1 134.6C299.2 134.2 302.4 133.9 305.5 133.7C308.7 133.5 311.8 133.4 315 133.4C318.1 133.4 321.3 133.5 324.4 133.7C327.6 133.9 330.7 134.2 333.8 134.6C336.9 135 340 135.5 343.1 136.1C346.1 136.8 349.2 137.5 352.2 138.3C355.2 139.1 358.2 140 361.1 141C364.1 142 367 143.1 369.9 144.3C372.8 145.5 375.7 146.8 378.6 148.1C381.4 149.4 384.2 150.8 387 152.3C389.8 153.8 392.6 155.3 395.3 156.9C398.1 158.5 400.8 160.2 403.5 161.9C406.2 163.6 408.8 165.4 411.5 167.2C414.1 169 416.7 170.8 419.3 172.7C421.9 174.6 424.4 176.5 426.9 178.5C429.5 180.4 432 182.4 434.4 184.4C436.9 186.4 439.4 188.4 441.8 190.4C444.2 192.5 446.6 194.5 449 196.6C451.3 198.7 453.7 200.8 456 202.9C458.4 205 460.7 207.2 463 209.3C465.3 211.5 467.5 213.7 469.8 215.8C472 218 474.3 220.2 476.5 222.5C478.7 224.7 480.9 226.9 483.1 229.2C485.3 231.4 487.4 233.7 489.6 236C491.7 238.3 493.9 240.6 496 242.9C498.1 245.2 500.2 247.5 502.3 249.8C504.5 252.1 506.5 254.5 508.6 256.8C510.7 259.2 512.8 261.5 514.9 263.9C516.9 266.2 519 268.6 521 271C523.1 273.4 525.1 275.7 527.2 278.1C529.2 280.5 531.3 282.9 533.3 285.3C535.3 287.7 537.4 290.1 539.4 292.5C541.4 294.9 543.4 297.3 545.5 299.7C547.5 302.1 549.5 304.6 551.6 307C553.6 309.4 555.6 311.8 557.6 314.2C559.7 316.6 561.7 319 563.7 321.4C565.8 323.8 567.8 326.3 569.9 328.7C571.9 331.1 574 333.5 576 335.9C578.1 338.3 580.2 340.6 582.2 343C584.3 345.4 586.4 347.8 588.5 350.2C590.6 352.5 592.7 354.9 594.8 357.3C596.9 359.6 599 362 601.1 364.3C603.2 366.7 605.4 369 607.5 371.3C609.7 373.7 611.8 376 614 378.3C616.1 380.6 618.3 382.9 620.5 385.2C622.7 387.4 624.9 389.7 627.1 392C629.3 394.2 631.5 396.5 633.7 398.7C635.9 400.9 638.2 403.1 640.4 405.3C642.7 407.5 644.9 409.7 647.2 411.9C649.5 414 651.8 416.2 654.1 418.3C656.4 420.4 658.7 422.6 661 424.6C663.4 426.7 665.7 428.8 668.1 430.9C670.4 432.9 672.8 435 675.2 437C677.6 439 680 441 682.4 443C684.8 444.9 687.3 446.9 689.7 448.8C692.2 450.7 694.7 452.6 697.2 454.5C699.6 456.4 702.2 458.2 704.7 460.1C707.2 461.9 709.7 463.7 712.3 465.5C714.9 467.3 717.4 469.1 720 470.8C722.6 472.5 725.2 474.3 727.8 476C730.5 477.7 733.1 479.4 735.7 481.1C738.4 482.7 741.1 484.4 743.7 486.1C746.4 487.7 749.1 489.3 751.8 491C754.5 492.6 757.2 494.2 760 495.8C762.7 497.4 765.4 499 768.2 500.6C770.9 502.2 773.7 503.8 776.5 505.4C779.3 507 782.1 508.6 784.9 510.2C787.7 511.7 790.5 513.3 793.3 514.9C796.1 516.5 798.9 518.1 801.8 519.6C804.6 521.2 807.5 522.8 810.3 524.3C813.2 525.9 816 527.4 818.9 528.9C821.8 530.3 824.7 531.8 827.7 533.1C830.6 534.4 833.5 535.7 836.5 536.9C839.5 538 842.5 539.1 845.5 540.1C848.5 541.1 851.5 541.9 854.5 542.6C857.6 543.3 860.6 543.9 863.6 544.3C866.6 544.8 869.7 545.1 872.7 545.2C875.6 545.3 878.6 545.2 881.6 544.9C884.5 544.7 887.5 544.2 890.3 543.6C893.2 542.9 896 542.1 898.8 541C901.6 540 904.3 538.7 907 537.3C909.6 535.9 912.2 534.2 914.7 532.4C917.2 530.6 919.6 528.6 921.9 526.5C924.2 524.4 926.4 522 928.6 519.6C930.7 517.2 932.7 514.6 934.5 511.9C936.4 509.2 938.2 506.4 939.8 503.5C941.5 500.6 943 497.6 944.3 494.6C945.7 491.6 947 488.4 948 485.3C949.1 482.1 950.3 477.3 950.8 475.7" stroke="#000" stroke-width="1.75" fill="none" />
<path d="M161.7 245.6C162.6 244.3 165.2 240.6 167.1 238.1C169 235.5 171 233 173 230.6C175.1 228.1 177.2 225.6 179.4 223.1C181.6 220.7 183.9 218.3 186.3 215.9C188.6 213.5 191.1 211.1 193.5 208.8C196 206.5 198.6 204.3 201.2 202.1C203.8 199.9 206.5 197.8 209.2 195.7C211.9 193.6 214.7 191.6 217.5 189.7C220.4 187.8 223.2 186 226.1 184.3C229.1 182.6 232 180.9 235 179.4C238 177.8 241 176.4 244 175.1C247.1 173.8 250.2 172.6 253.2 171.5C256.3 170.5 259.5 169.5 262.6 168.8C265.7 168 268.9 167.3 272 166.8C275.2 166.3 278.4 165.9 281.5 165.8C284.7 165.6 287.9 165.5 291.1 165.6C294.2 165.7 297.4 166 300.6 166.4C303.8 166.8 307 167.3 310.2 167.9C313.4 168.5 316.5 169.2 319.7 170C322.9 170.8 326.1 171.7 329.3 172.7C332.4 173.7 335.6 174.7 338.8 175.8C341.9 176.9 345.1 178.1 348.2 179.3C351.4 180.5 354.5 181.7 357.7 183C360.8 184.3 363.9 185.6 367 186.9C370.1 188.2 373.2 189.5 376.3 190.9C379.4 192.2 382.5 193.6 385.5 195C388.6 196.4 391.6 197.8 394.6 199.3C397.6 200.8 400.6 202.3 403.6 203.8C406.6 205.3 409.5 206.8 412.5 208.4C415.4 210 418.3 211.6 421.2 213.3C424 214.9 426.9 216.6 429.7 218.3C432.5 220.1 435.3 221.8 438.1 223.6C440.8 225.4 443.5 227.2 446.2 229.1C448.9 231 451.6 232.9 454.2 234.8C456.8 236.8 459.4 238.8 461.9 240.8C464.4 242.9 466.9 245 469.4 247.1C471.8 249.2 474.2 251.4 476.6 253.6C479 255.9 481.3 258.1 483.5 260.5C485.8 262.8 488.1 265.2 490.2 267.6C492.4 270 494.6 272.4 496.7 274.9C498.8 277.4 500.9 279.9 502.9 282.5C505 285.1 507 287.7 509 290.3C511 292.9 513 295.5 514.9 298.2C516.9 300.9 518.8 303.6 520.7 306.3C522.6 309 524.5 311.7 526.4 314.5C528.3 317.2 530.2 320 532 322.7C533.9 325.5 535.7 328.3 537.6 331C539.4 333.8 541.3 336.6 543.1 339.4C545 342.2 546.8 345 548.7 347.7C550.6 350.5 552.4 353.3 554.3 356C556.2 358.8 558 361.6 559.9 364.3C561.8 367 563.8 369.7 565.7 372.5C567.6 375.2 569.6 377.8 571.6 380.5C573.5 383.2 575.5 385.8 577.6 388.4C579.6 391 581.7 393.6 583.7 396.1C585.8 398.7 588 401.2 590.1 403.7C592.3 406.2 594.5 408.6 596.7 411C599 413.4 601.2 415.8 603.5 418.1C605.8 420.4 608.2 422.7 610.6 425C612.9 427.2 615.4 429.4 617.8 431.6C620.2 433.8 622.7 436 625.2 438.1C627.7 440.2 630.2 442.3 632.8 444.3C635.4 446.4 637.9 448.4 640.5 450.4C643.2 452.4 645.8 454.4 648.5 456.3C651.1 458.3 653.8 460.2 656.5 462.1C659.2 463.9 661.9 465.8 664.7 467.6C667.4 469.4 670.2 471.3 673 473C675.8 474.8 678.6 476.6 681.4 478.3C684.2 480 687.1 481.7 689.9 483.4C692.8 485.1 695.6 486.7 698.5 488.4C701.4 490 704.3 491.6 707.2 493.2C710.1 494.8 713 496.4 715.9 498C718.8 499.6 721.8 501.1 724.7 502.7C727.6 504.2 730.5 505.8 733.5 507.3C736.4 508.8 739.3 510.4 742.3 511.9C745.2 513.5 748.1 515 751 516.6C753.9 518.1 756.8 519.7 759.7 521.2C762.6 522.8 765.5 524.4 768.4 526C771.3 527.6 774.1 529.2 777 530.8C779.8 532.5 782.6 534.1 785.4 535.8C788.2 537.5 791 539.2 793.8 541C796.5 542.7 799.3 544.5 802 546.3C804.7 548.1 807.4 549.9 810.1 551.7C812.8 553.6 815.5 555.4 818.2 557.2C820.9 559 823.7 560.8 826.5 562.5C829.3 564.2 832.2 565.9 835.1 567.5C838 569.1 841.1 570.7 844.1 572.1C847.2 573.5 850.4 574.9 853.6 576.1C856.8 577.3 860 578.4 863.3 579.4C866.6 580.4 869.9 581.3 873.2 582.1C876.5 582.8 879.8 583.4 883.1 583.9C886.4 584.3 889.7 584.6 893 584.8C896.3 584.9 899.5 584.9 902.7 584.6C905.9 584.4 909.1 584 912.2 583.4C915.2 582.8 918.3 582.1 921.2 581.1C924.1 580.1 926.9 578.8 929.7 577.4C932.4 576 935.1 574.3 937.6 572.5C940.2 570.7 942.7 568.7 945 566.5C947.4 564.4 949.7 562.1 952 559.6C954.2 557.2 956.4 554.6 958.4 551.9C960.5 549.3 962.6 546.5 964.5 543.6C966.5 540.8 968.4 537.8 970.2 534.8C972.1 531.9 973.9 528.8 975.6 525.8C977.4 522.8 979.1 519.7 980.8 516.6C982.4 513.5 984 510.5 985.6 507.4C987.2 504.4 988.8 501.4 990.3 498.5C991.9 495.5 993.4 492.6 994.9 489.9C996.4 487.1 997.9 484.3 999.3 481.7C1000.8 479.2 1003 475.6 1003.7 474.3" stroke="#000" stroke-width="1.75" fill="none" />
<path d="M171.8 257.8C172.8 256.5 175.7 252.8 177.8 250.3C179.8 247.8 181.9 245.3 184.1 242.9C186.3 240.4 188.5 237.9 190.8 235.5C193.2 233.1 195.5 230.7 198 228.3C200.4 225.9 202.9 223.6 205.4 221.3C208 219.1 210.6 216.9 213.2 214.7C215.9 212.6 218.6 210.5 221.3 208.5C224.1 206.5 226.9 204.6 229.7 202.7C232.5 200.9 235.4 199.2 238.3 197.6C241.2 196 244.2 194.4 247.1 193C250.1 191.7 253.1 190.4 256.2 189.2C259.2 188.1 262.3 187.1 265.4 186.3C268.5 185.4 271.6 184.7 274.7 184.1C277.9 183.6 281 183.2 284.2 183C287.4 182.8 290.6 182.7 293.8 182.8C297 182.9 300.2 183.2 303.4 183.6C306.6 183.9 309.8 184.4 313 185.1C316.2 185.7 319.5 186.4 322.7 187.3C325.9 188.1 329.1 189.1 332.2 190.1C335.4 191.2 338.6 192.3 341.7 193.5C344.9 194.7 348 196 351.1 197.3C354.2 198.6 357.3 200 360.4 201.4C363.4 202.9 366.4 204.4 369.4 205.9C372.4 207.4 375.4 208.9 378.3 210.5C381.3 212.1 384.2 213.7 387.1 215.4C390 217 392.9 218.7 395.8 220.3C398.7 222 401.5 223.7 404.4 225.4C407.2 227.1 410.1 228.9 412.9 230.6C415.8 232.3 418.6 234.1 421.4 235.8C424.2 237.6 427 239.4 429.8 241.2C432.6 243 435.3 244.8 438 246.6C440.8 248.5 443.5 250.4 446.2 252.3C448.8 254.2 451.5 256.1 454.1 258.1C456.7 260.1 459.3 262.1 461.9 264.1C464.4 266.2 466.9 268.3 469.4 270.4C471.8 272.6 474.3 274.8 476.6 277C479 279.2 481.3 281.5 483.6 283.9C485.9 286.2 488.1 288.6 490.3 291.1C492.4 293.5 494.6 296 496.7 298.5C498.8 301.1 500.8 303.6 502.9 306.2C504.9 308.8 506.9 311.5 508.8 314.1C510.8 316.8 512.7 319.5 514.6 322.2C516.5 324.9 518.4 327.7 520.2 330.4C522.1 333.2 523.9 336 525.7 338.7C527.5 341.5 529.3 344.3 531.1 347.1C532.9 349.9 534.7 352.7 536.5 355.5C538.3 358.3 540.1 361.2 541.9 363.9C543.7 366.7 545.5 369.5 547.3 372.3C549.2 375.1 551 377.8 552.9 380.5C554.8 383.3 556.7 386 558.6 388.7C560.6 391.3 562.5 394 564.6 396.6C566.6 399.2 568.7 401.8 570.8 404.4C572.9 406.9 575 409.4 577.2 411.9C579.4 414.4 581.6 416.8 583.9 419.2C586.2 421.6 588.5 423.9 590.8 426.3C593.2 428.6 595.6 430.8 598 433.1C600.4 435.3 602.9 437.5 605.3 439.7C607.8 441.8 610.3 443.9 612.9 446C615.4 448.1 618 450.2 620.6 452.2C623.2 454.2 625.9 456.2 628.5 458.2C631.2 460.1 633.9 462.1 636.6 464C639.3 465.9 642 467.8 644.7 469.6C647.5 471.5 650.2 473.3 653 475.1C655.8 477 658.6 478.8 661.4 480.5C664.2 482.3 667 484.1 669.8 485.8C672.7 487.6 675.5 489.3 678.3 491C681.2 492.7 684 494.4 686.9 496.1C689.7 497.8 692.6 499.5 695.5 501.2C698.3 502.9 701.2 504.6 704.1 506.2C706.9 507.9 709.8 509.6 712.6 511.2C715.5 512.9 718.3 514.5 721.2 516.2C724 517.9 726.9 519.5 729.7 521.2C732.5 522.8 735.4 524.5 738.2 526.2C741 527.8 743.9 529.5 746.7 531.1C749.5 532.8 752.3 534.5 755.2 536.1C758 537.8 760.8 539.4 763.7 541.1C766.5 542.8 769.3 544.4 772.2 546.1C775 547.7 777.9 549.4 780.7 551C783.6 552.7 786.4 554.4 789.3 556C792.1 557.7 795 559.3 797.9 561C800.8 562.6 803.7 564.3 806.6 565.9C809.5 567.6 812.4 569.2 815.3 570.9C818.2 572.5 821.1 574.2 824.1 575.8C827 577.4 830 579 833 580.6C836 582.1 839 583.7 842 585.1C845.1 586.5 848.2 587.9 851.3 589.1C854.4 590.4 857.5 591.5 860.7 592.5C863.8 593.5 867 594.4 870.3 595.2C873.5 595.9 876.7 596.5 880 597C883.2 597.4 886.5 597.8 889.7 598C893 598.1 896.2 598.2 899.4 598.1C902.7 598 905.9 597.7 909 597.3C912.2 596.9 915.3 596.3 918.4 595.6C921.4 594.8 924.5 593.9 927.4 592.9C930.4 591.8 933.3 590.6 936.1 589.2C938.9 587.8 941.7 586.3 944.3 584.5C947 582.8 949.5 580.9 952 578.8C954.4 576.7 956.8 574.5 959.1 572.1C961.4 569.8 963.6 567.3 965.7 564.6C967.9 562 969.9 559.3 971.9 556.5C973.9 553.7 975.8 550.8 977.7 547.8C979.6 544.9 981.4 541.9 983.2 538.8C984.9 535.8 986.6 532.7 988.3 529.6C990 526.5 991.7 523.4 993.3 520.3C994.9 517.2 996.5 514.2 998 511.1C999.6 508.1 1001.1 505.1 1002.6 502.2C1004.2 499.3 1005.7 496.4 1007.2 493.6C1008.7 490.9 1010.2 488.2 1011.7 485.6C1013.2 483.1 1015.5 479.5 1016.3 478.3" stroke="#000" stroke-width="1.75" fill="none" />
<ellipse cx="138.8" cy="233.1" rx="8" ry="4.4" transform="rotate(49.5 138.8 233.1)" stroke="#000" stroke-width="1.75" fill="#fcfdfb" />
<ellipse cx="166.8" cy="251.7" rx="7.9" ry="4.4" transform="rotate(50.4 166.8 251.7)" stroke="#000" stroke-width="1.75" fill="#fcfdfb" />
<ellipse cx="944.2" cy="472.3" rx="7.4" ry="4.1" transform="rotate(26.7 944.2 472.3)" stroke="#000" stroke-width="1.75" fill="#fcfdfb" />
<ellipse cx="1010" cy="476.3" rx="6.6" ry="3.6" transform="rotate(17.5 1010 476.3)" stroke="#000" stroke-width="1.75" fill="#fcfdfb" />
<path d="M456 165L487 135L771 392L813 351" stroke="#000" stroke-width="1.7" fill="none" />
<ellipse cx="812.5" cy="348.5" rx="28.4" ry="8" transform="rotate(32 812.5 348.5)" stroke="#000" stroke-width="2.8" fill="none" />
<path d="M832.4 366.1C831.9 366.1 830.5 366.2 829.3 366C828.1 365.8 826.7 365.4 825.3 365C823.8 364.6 822.2 364 820.6 363.3C819 362.6 817.2 361.8 815.5 360.9C813.7 360.1 811.9 359.1 810.1 358.1C808.4 357 806.6 355.9 804.9 354.8C803.2 353.6 801.5 352.4 799.9 351.2C798.4 350.1 796.9 348.8 795.6 347.7C794.2 346.5 793 345.3 792 344.2C790.9 343.1 790 342 789.3 341C788.7 340 788.1 338.7 787.8 338.3" stroke="#000" stroke-width="1" fill="none" />
<line x1="67" y1="406" x2="268" y2="521" stroke="#000" stroke-width="1.5" />
<line x1="164" y1="550.7" x2="239.4" y2="507" stroke="#000" stroke-width="1.5" />
<line x1="102" y1="516.5" x2="189" y2="567" stroke="#000" stroke-width="1.5" />
<path d="M34.2 388.6C33.9 387.6 32.9 384.7 32.4 382.6C31.9 380.4 31.5 378.2 31.3 375.9C31.1 373.6 31 371.2 31 368.8C31.1 366.3 31.2 363.8 31.5 361.2C31.8 358.7 32.2 356 32.7 353.4C33.3 350.8 34 348.1 34.7 345.4C35.5 342.7 36.4 340 37.5 337.4C38.5 334.7 39.6 332 40.8 329.4C42.1 326.7 43.4 324.1 44.9 321.6C46.3 319 47.8 316.5 49.5 314.1C51.1 311.7 52.8 309.3 54.5 307C56.3 304.8 58.1 302.6 60 300.5C61.9 298.4 63.9 296.4 65.9 294.6C67.9 292.7 69.9 291 72 289.4C74 287.8 76.2 286.3 78.2 284.9C80.3 283.6 82.5 282.4 84.6 281.4C86.7 280.3 88.8 279.4 90.9 278.7C93 278 95.1 277.4 97.1 277C99.1 276.6 101.1 276.3 103.1 276.2C105 276.1 106.9 276.2 108.7 276.5C110.6 276.7 112.3 277.1 114 277.7C115.7 278.2 117.3 279 118.9 279.8C120.4 280.7 121.8 281.8 123.1 282.9C124.5 284.1 125.7 285.4 126.8 286.9C128 288.4 129 290 129.9 291.7C130.8 293.4 131.5 295.3 132.2 297.3C132.9 299.2 133.4 301.3 133.8 303.5C134.2 305.7 134.5 307.9 134.6 310.3C134.8 312.6 134.8 315.1 134.7 317.6C134.6 320 134.4 322.6 134 325.2C133.7 327.8 133.2 330.4 132.6 333.1C131.9 335.7 131.2 338.4 130.4 341.1C129.5 343.8 128.5 346.5 127.4 349.1C126.4 351.8 125.2 354.5 123.9 357.1C122.6 359.7 121.2 362.3 119.7 364.8C118.2 367.3 116.6 369.8 114.9 372.2C113.3 374.5 111.5 376.9 109.7 379.1C107.9 381.3 106 383.4 104.1 385.5C102.2 387.5 100.2 389.4 98.2 391.2C96.2 393 94.1 394.6 92 396.2C90 397.7 87.8 399.1 85.7 400.4C83.6 401.6 81.5 402.7 79.4 403.7C77.3 404.6 75.2 405.4 73.1 406.1C71.1 406.7 69 407.2 67 407.5C65 407.9 63 408 61.1 408C59.2 408 57.3 407.8 55.5 407.5C53.7 407.2 52 406.7 50.3 406C48.7 405.4 47.1 404.5 45.7 403.6C44.2 402.6 42.8 401.5 41.5 400.2C40.3 399 38.6 396.7 38 396" stroke="#000" stroke-width="1.9" fill="none" />
<path d="M38 396L39.3 391.6L37.4 389.4L34.2 388.6" stroke="#000" stroke-width="1.9" fill="none" />
<ellipse cx="82.9" cy="342.5" rx="31.8" ry="17.7" transform="rotate(-60 82.9 342.5)" stroke="#000" stroke-width="1.9" fill="none" />
<path d="M99.8 348.5C99.2 349.4 97.7 352.3 96.5 354C95.3 355.8 94.1 357.5 92.8 359C91.4 360.5 90 362 88.7 363.2C87.3 364.5 85.8 365.6 84.4 366.5C83 367.4 81.6 368.2 80.3 368.7C79 369.2 77.6 369.5 76.4 369.6C75.2 369.7 74 369.6 73 369.3C72 369 71 368.4 70.2 367.7C69.4 367 68.8 366 68.2 364.9C67.7 363.9 67.3 362.6 67.1 361.1C66.8 359.7 66.8 358.2 66.8 356.5C66.9 354.8 67.2 353 67.5 351.2C67.9 349.4 68.5 347.5 69.1 345.6C69.8 343.7 71.1 340.8 71.5 339.8" stroke="#000" stroke-width="1.5" fill="none" />
<path d="M84.7 362.3C83.9 363 81.8 365.3 80.3 366.6C78.9 367.8 77.4 368.9 76 369.8C74.6 370.6 73.2 371.3 71.9 371.7C70.6 372.1 69.4 372.3 68.3 372.3C67.2 372.2 66.1 371.9 65.2 371.4C64.4 370.9 63.6 370.2 63 369.2C62.4 368.3 62 367.1 61.7 365.8C61.4 364.5 61.3 362.9 61.3 361.3C61.3 359.6 61.5 357.8 61.9 355.9C62.3 354.1 63.2 351 63.5 350" stroke="#000" stroke-width="1.3" fill="none" />
<path d="M84.2 367.8C83.4 368.3 81.1 370 79.6 370.8C78.2 371.6 76.7 372.2 75.4 372.5C74 372.8 72.7 372.9 71.6 372.7C70.4 372.6 69.4 372.1 68.5 371.5C67.6 370.9 66.8 370 66.2 368.9C65.6 367.8 65.1 366.5 64.9 365.1C64.6 363.6 64.5 361.9 64.6 360.2C64.7 358.4 65.2 355.4 65.3 354.5" stroke="#000" stroke-width="1.0" fill="none" />
<ellipse cx="97.5" cy="319.5" rx="4.6" ry="2.4" transform="rotate(42 97.5 319.5)" stroke="#000" stroke-width="1.5" fill="none" />
<circle cx="99.6" cy="280.7" r="1.4" fill="#000"/>
<circle cx="130.5" cy="305.1" r="1.4" fill="#000"/>
<circle cx="52.3" cy="317.8" r="1.4" fill="#000"/>
<circle cx="114.4" cy="366.8" r="1.4" fill="#000"/>
<circle cx="35.6" cy="379.5" r="1.4" fill="#000"/>
<circle cx="66.4" cy="404.5" r="1.4" fill="#000"/>
<ellipse cx="118.5" cy="254" rx="7.6" ry="4.1" transform="rotate(38 118.5 254)" stroke="#000" stroke-width="2.9" fill="none" />
<ellipse cx="146" cy="274" rx="7.6" ry="4.1" transform="rotate(38 146 274)" stroke="#000" stroke-width="2.9" fill="none" />
<ellipse cx="118.5" cy="254" rx="5.5" ry="2.4" transform="rotate(38 118.5 254)" stroke="#000" stroke-width="0.9" fill="none" />
<ellipse cx="146" cy="274" rx="5.5" ry="2.4" transform="rotate(38 146 274)" stroke="#000" stroke-width="0.9" fill="none" />
<line x1="127.9" y1="375.8" x2="123.3" y2="380.7" stroke="#000" stroke-width="1.7" />
<line x1="130.2" y1="377.1" x2="125.7" y2="382" stroke="#000" stroke-width="1.7" />
<line x1="132.5" y1="378.4" x2="128" y2="383.3" stroke="#000" stroke-width="1.7" />
<line x1="134.8" y1="379.7" x2="130.3" y2="384.6" stroke="#000" stroke-width="1.7" />
<line x1="137.2" y1="381" x2="132.6" y2="385.9" stroke="#000" stroke-width="1.7" />
<line x1="139.5" y1="382.3" x2="134.9" y2="387.2" stroke="#000" stroke-width="1.7" />
<line x1="141.8" y1="383.6" x2="137.2" y2="388.4" stroke="#000" stroke-width="1.7" />
<line x1="127.2" y1="375.4" x2="141.1" y2="383.2" stroke="#000" stroke-width="1.1" />
<line x1="124" y1="381.1" x2="137.9" y2="388.8" stroke="#000" stroke-width="1.1" />
<path d="M125.4 381.8L120.7 383L119.3 378.4L122.4 372.7L127.1 371.6L128.5 376.1Z" stroke="#000" stroke-width="1.4" fill="#fcfdfb" />
<path d="M122.7 380.4L118.1 381.5L116.6 377L119.8 371.3L124.4 370.1L125.9 374.7Z" stroke="#000" stroke-width="1.7" fill="#fcfdfb" />
<ellipse cx="121.3" cy="375.8" rx="2.7" ry="4.5" transform="rotate(29.2 121.3 375.8)" stroke="#000" stroke-width="1.0" fill="none" />
<ellipse cx="154.3" cy="392.8" rx="6.3" ry="4.8" transform="rotate(-60 154.3 392.8)" stroke="#000" stroke-width="2.2" fill="#fcfdfb" />
<ellipse cx="154.8" cy="393.1" rx="2.2" ry="1.6" transform="rotate(-60 154.8 393.1)" stroke="#000" stroke-width="1.8" fill="none" />
<line x1="140" y1="386" x2="165" y2="400.5" stroke="#000" stroke-width="1.5" />
<line x1="165" y1="400.5" x2="194" y2="416.5" stroke="#000" stroke-width="3.2" />
<line x1="213.7" y1="363" x2="250.1" y2="379.3" stroke="#000" stroke-width="2.2" />
<path d="M213.7 363L210.7 374.9" stroke="#000" stroke-width="1.4" fill="none" />
<line x1="227.8" y1="365.7" x2="255.3" y2="380.1" stroke="#000" stroke-width="1.5" />
<path d="M227.8 365.7L227 369" stroke="#000" stroke-width="1.3" fill="none" />
<line x1="197.3" y1="368.6" x2="225.6" y2="384.6" stroke="#000" stroke-width="2.2" />
<path d="M197.3 368.6C197.1 370.9 195.9 378 196.3 382.3C196.7 386.6 197.6 391.6 199.5 394.2C201.4 396.8 206.3 397.3 207.7 397.9" stroke="#000" stroke-width="1.4" fill="none" />
<line x1="180.2" y1="382.6" x2="208.5" y2="399.4" stroke="#000" stroke-width="2.2" />
<path d="M180.2 382.6C180.9 384.5 181.6 389.8 184.6 394.2C187.6 398.6 195.8 406.6 198 409.1" stroke="#000" stroke-width="1.4" fill="none" />
<line x1="156.4" y1="424" x2="185.4" y2="440.4" stroke="#000" stroke-width="2.2" />
<path d="M156.4 424C158.6 423.8 164.4 422.1 169.8 422.5C175.2 422.9 185.9 425.6 189.1 426.2" stroke="#000" stroke-width="1.4" fill="none" />
<line x1="153.4" y1="445.6" x2="181.7" y2="461.9" stroke="#000" stroke-width="2.2" />
<path d="M153.4 445.6C155.8 444.1 163.3 438 167.5 436.6C171.7 435.2 176.8 437.3 178.7 437.4" stroke="#000" stroke-width="1.4" fill="none" />
<line x1="157.1" y1="461.9" x2="184.6" y2="477.6" stroke="#000" stroke-width="1.6" />
<path d="M157.1 461.9L162.3 455.2" stroke="#000" stroke-width="1.4" fill="none" />
<line x1="166" y1="473.1" x2="177.2" y2="479" stroke="#000" stroke-width="1.6" />
<path d="M166 473.1L168.3 470.9" stroke="#000" stroke-width="1.4" fill="none" />
<path d="M268 408.8C268 410.7 268.2 416.1 267.8 420C267.4 423.8 266.7 428 265.6 432C264.5 436.1 263.1 440.3 261.4 444.4C259.8 448.5 257.7 452.6 255.5 456.5C253.3 460.4 250.8 464.3 248.2 467.8C245.5 471.4 242.6 474.8 239.6 477.8C236.7 480.9 233.5 483.7 230.4 486C227.2 488.4 224 490.5 220.8 492.1C217.6 493.7 214.4 494.9 211.4 495.7C208.3 496.4 205.3 496.8 202.5 496.7C199.7 496.6 197 496 194.5 495C192.1 494 189.9 492.6 188 490.8C186 489 183.8 485.3 183 484.2" stroke="#000" stroke-width="1.6" fill="none" />
<ellipse cx="226.8" cy="436.6" rx="63.6" ry="37" transform="rotate(-60 226.8 436.6)" stroke="#000" stroke-width="2.2" fill="#fcfdfb" />
<path d="M263.9 445.3C262.8 447.3 259.8 453.6 257.4 457.5C255 461.4 252.3 465.2 249.5 468.7C246.7 472.2 243.6 475.5 240.5 478.4C237.4 481.4 234.1 484 230.9 486.2C227.7 488.4 224.3 490.2 221.1 491.6C217.8 492.9 214.6 493.9 211.5 494.3C208.5 494.8 205.4 494.8 202.7 494.4C199.9 493.9 197.3 493 195 491.7C192.7 490.3 190.6 488.5 188.8 486.4C187.1 484.2 185.6 481.6 184.4 478.7C183.3 475.8 182.5 472.5 182.1 469C181.6 465.6 181.9 459.7 181.8 457.8" stroke="#000" stroke-width="3" fill="none" />
<ellipse cx="226.3" cy="437" rx="30.8" ry="16.1" transform="rotate(-60 226.3 437)" stroke="#000" stroke-width="2.2" fill="none" />
<path d="M220.3 426.3C220.9 425.6 222.6 423.2 223.8 421.9C225 420.5 226.3 419.2 227.6 418.1C228.8 417.1 230.1 416.1 231.4 415.3C232.7 414.5 233.9 413.9 235.1 413.4C236.4 413 237.5 412.7 238.6 412.7C239.7 412.6 240.8 412.7 241.7 413C242.6 413.3 243.5 413.8 244.2 414.5C244.9 415.2 245.6 416 246 417C246.5 418 246.9 419.2 247.1 420.4C247.3 421.7 247.4 423.1 247.3 424.6C247.3 426.1 247.1 427.7 246.8 429.4C246.4 431 246 432.8 245.4 434.5C244.8 436.2 244.1 438 243.3 439.7C242.5 441.4 241.5 443.2 240.6 444.8C239.6 446.5 237.8 448.8 237.3 449.6" stroke="#000" stroke-width="1.5" fill="none" />
<ellipse cx="220.4" cy="432.9" rx="5.6" ry="3.6" transform="rotate(-60 220.4 432.9)" stroke="#000" stroke-width="3" fill="none" />
<line x1="257.8" y1="389.6" x2="253.5" y2="396.3" stroke="#000" stroke-width="2.6" stroke-linecap="butt"/>
<line x1="264.5" y1="399.7" x2="259.2" y2="405" stroke="#000" stroke-width="2.6" stroke-linecap="butt"/>
<line x1="266.7" y1="414.3" x2="261.1" y2="417.5" stroke="#000" stroke-width="2.6" stroke-linecap="butt"/>
<line x1="264" y1="431.5" x2="258.8" y2="432.3" stroke="#000" stroke-width="2.6" stroke-linecap="butt"/>
<line x1="256.8" y1="449.4" x2="252.7" y2="447.6" stroke="#000" stroke-width="2.6" stroke-linecap="butt"/>
<line x1="246.1" y1="465.7" x2="243.4" y2="461.6" stroke="#000" stroke-width="2.6" stroke-linecap="butt"/>
<line x1="233" y1="478.5" x2="232.2" y2="472.6" stroke="#000" stroke-width="2.6" stroke-linecap="butt"/>
<line x1="219.1" y1="486.3" x2="220.3" y2="479.3" stroke="#000" stroke-width="2.6" stroke-linecap="butt"/>
<line x1="206.2" y1="488" x2="209.1" y2="480.7" stroke="#000" stroke-width="2.6" stroke-linecap="butt"/>
<line x1="195.8" y1="483.6" x2="200.1" y2="476.9" stroke="#000" stroke-width="2.6" stroke-linecap="butt"/>
<line x1="189.1" y1="473.5" x2="194.4" y2="468.2" stroke="#000" stroke-width="2.6" stroke-linecap="butt"/>
<line x1="186.9" y1="458.9" x2="192.5" y2="455.7" stroke="#000" stroke-width="2.6" stroke-linecap="butt"/>
<line x1="189.6" y1="441.7" x2="194.8" y2="440.9" stroke="#000" stroke-width="2.6" stroke-linecap="butt"/>
<line x1="196.8" y1="423.8" x2="200.9" y2="425.6" stroke="#000" stroke-width="2.6" stroke-linecap="butt"/>
<line x1="207.5" y1="407.5" x2="210.2" y2="411.6" stroke="#000" stroke-width="2.6" stroke-linecap="butt"/>
<line x1="220.6" y1="394.7" x2="221.4" y2="400.6" stroke="#000" stroke-width="2.6" stroke-linecap="butt"/>
<line x1="234.5" y1="386.9" x2="233.3" y2="393.9" stroke="#000" stroke-width="2.6" stroke-linecap="butt"/>
<line x1="247.4" y1="385.2" x2="244.5" y2="392.5" stroke="#000" stroke-width="2.6" stroke-linecap="butt"/>
<ellipse cx="250.5" cy="406" rx="2.6" ry="1.9" transform="rotate(-60 250.5 406)" stroke="#000" stroke-width="1" fill="#000" />
<line x1="256.9" y1="411.9" x2="252.3" y2="415.4" stroke="#000" stroke-width="2.6" stroke-linecap="butt"/>
<ellipse cx="253.5" cy="425.2" rx="2.6" ry="1.9" transform="rotate(-60 253.5 425.2)" stroke="#000" stroke-width="1" fill="#000" />
<line x1="253.3" y1="437.9" x2="249" y2="437.5" stroke="#000" stroke-width="2.6" stroke-linecap="butt"/>
<ellipse cx="244" cy="449.7" rx="2.6" ry="1.9" transform="rotate(-60 244 449.7)" stroke="#000" stroke-width="1" fill="#000" />
<line x1="237.2" y1="463.3" x2="235.4" y2="459.2" stroke="#000" stroke-width="2.6" stroke-linecap="butt"/>
<ellipse cx="226.5" cy="468.1" rx="2.6" ry="1.9" transform="rotate(-60 226.5 468.1)" stroke="#000" stroke-width="1" fill="#000" />
<line x1="216.3" y1="476.2" x2="217.7" y2="470.3" stroke="#000" stroke-width="2.6" stroke-linecap="butt"/>
<ellipse cx="209.1" cy="471.7" rx="2.6" ry="1.9" transform="rotate(-60 209.1 471.7)" stroke="#000" stroke-width="1" fill="#000" />
<line x1="200.3" y1="470.6" x2="204.3" y2="465.6" stroke="#000" stroke-width="2.6" stroke-linecap="butt"/>
<ellipse cx="200" cy="458.9" rx="2.6" ry="1.9" transform="rotate(-60 200 458.9)" stroke="#000" stroke-width="1" fill="#000" />
<line x1="196.7" y1="449.1" x2="201.4" y2="447.4" stroke="#000" stroke-width="2.6" stroke-linecap="butt"/>
<ellipse cx="203.5" cy="435.7" rx="2.6" ry="1.9" transform="rotate(-60 203.5 435.7)" stroke="#000" stroke-width="1" fill="#000" />
<line x1="207.2" y1="421.7" x2="210.4" y2="424.1" stroke="#000" stroke-width="2.6" stroke-linecap="butt"/>
<ellipse cx="217.8" cy="412.9" rx="2.6" ry="1.9" transform="rotate(-60 217.8 412.9)" stroke="#000" stroke-width="1" fill="#000" />
<line x1="226.8" y1="401.3" x2="227.1" y2="406.7" stroke="#000" stroke-width="2.6" stroke-linecap="butt"/>
<ellipse cx="236.4" cy="401.1" rx="2.6" ry="1.9" transform="rotate(-60 236.4 401.1)" stroke="#000" stroke-width="1" fill="#000" />
<line x1="246.5" y1="397.4" x2="243.6" y2="403.2" stroke="#000" stroke-width="2.6" stroke-linecap="butt"/>
<line x1="221" y1="434" x2="296" y2="476" stroke="#000" stroke-width="1.5" />
<ellipse cx="272.1" cy="462.7" rx="6" ry="4" transform="rotate(-60 272.1 462.7)" stroke="#000" stroke-width="3" fill="none" />
<path d="M338.4 245.1C338.8 244.8 339.6 243.5 341 243C342.4 242.5 344.4 241.8 347 242C349.6 242.2 352.6 242.3 356.5 244C360.4 245.7 366.6 249.2 370.6 252C374.6 254.8 378.1 257.8 380.6 261C383.1 264.2 384.8 269.3 385.6 271" stroke="#000" stroke-width="1.6" fill="none" />
<path d="M385.6 271L362.5 304.4L332.4 338.5" stroke="#000" stroke-width="1.6" fill="none" />
<path d="M338.4 245.1L336.8 249.5L334 255.5" stroke="#000" stroke-width="1.6" fill="none" />
<path d="M334 255.5C331.7 257.9 324.6 265.4 320 270C315.4 274.6 312.3 276.7 306.3 283.3C300.3 289.9 289.9 301.4 284.2 309.4C278.5 317.4 274.7 324.5 272 331.5C269.3 338.5 267.7 345.2 268 351.6C268.3 358 271 365 274 369.7C277 374.4 281.9 377.7 286 379.7C290.1 381.7 294.6 380.4 298.3 381.7C302 383 306.6 386.4 308.3 387.4" stroke="#000" stroke-width="1.6" fill="none" />
<ellipse cx="326.8" cy="366.7" rx="27.5" ry="15" transform="rotate(-60 326.8 366.7)" stroke="#000" stroke-width="2.4" fill="none" />
<path d="M304.3 328.5C307 329 315.4 329.8 320.4 331.5C325.4 333.2 331.1 336.5 334.4 338.5C337.7 340.5 339.4 342.8 340.4 343.6" stroke="#000" stroke-width="1.3" fill="none" />
<line x1="370.6" y1="251.2" x2="389.7" y2="232.7" stroke="#000" stroke-width="1.5" />
<ellipse cx="360.7" cy="388.8" rx="27.5" ry="18.3" transform="rotate(-60 360.7 388.8)" stroke="#000" stroke-width="2.8" fill="none" />
<path d="M361.5 410C360.8 410.4 358.6 411.6 357.2 412.1C355.8 412.7 354.3 413 353 413.2C351.6 413.3 350.2 413.3 349 413.1C347.7 412.8 346.5 412.4 345.4 411.8C344.3 411.3 343.3 410.5 342.4 409.6C341.6 408.6 340.8 407.5 340.2 406.3C339.6 405.1 339.1 403.7 338.8 402.2C338.5 400.8 338.3 399.2 338.3 397.5C338.3 395.9 338.7 393.3 338.7 392.4" stroke="#000" stroke-width="1" fill="none" />
<path d="M266.8 610.2C267.2 608.1 267.6 603 269.5 597.5C271.4 592 273.7 585.2 277.9 577.4C282.1 569.6 288.5 560.2 294.6 550.7C300.7 541.2 308 530 314.7 520.5C321.4 511 328.1 501.8 334.8 493.7C341.5 485.6 348.2 478.1 354.9 472C361.6 465.9 368.3 460.6 375 456.9C381.7 453.1 391.7 450.7 395 449.5" stroke="#000" stroke-width="1.6" fill="none" />
<path d="M395 449.5C397.8 449.2 407.1 447.2 411.8 447.9C416.6 448.6 420.1 450.4 423.5 453.6C426.9 456.8 429.9 462 431.9 467C433.8 472 434.8 477.6 435.2 483.7C435.6 489.8 435.3 497.1 434.2 503.8C433.1 510.5 431.1 517.2 428.5 523.9C425.9 530.6 422.1 537.6 418.5 544C414.9 550.4 411.3 556.8 406.8 562.4C402.3 568 397 573.2 391.7 577.4C386.4 581.6 380.6 585.1 375 587.5C369.4 589.9 363.2 591.5 358.2 591.8C353.2 592.1 348.7 590.8 344.8 589.2C340.9 587.7 336.9 584.6 334.8 582.5C332.7 580.4 332.8 577.4 332.4 576.4" stroke="#000" stroke-width="2.3" fill="none" />
<path d="M236 592.5C236.8 589.4 237.9 581.1 241 574.1C244.1 567.1 249.9 559.1 254.4 550.7C258.9 542.3 262.8 532.8 267.8 523.9C272.8 515 279 505.8 284.6 497.1C290.2 488.5 295.7 479.5 301.3 472C306.9 464.5 312.4 457.8 318 451.9C323.6 446 329.2 440.7 334.8 436.8C340.4 432.9 345.9 430.3 351.5 428.5C357.1 426.7 363.2 425.9 368.2 426.1C373.2 426.3 377.1 427.7 381.6 429.5C386.1 431.3 390 433.8 395 436.8C400 439.8 409 445.7 411.8 447.5" stroke="#000" stroke-width="1.6" fill="none" />
<path d="M236 592.5L266.8 610.2L306.3 628.7" stroke="#000" stroke-width="1.6" fill="none" />
<path d="M332.4 576.4L313 609.2L306.3 628.7" stroke="#000" stroke-width="2.3" fill="none" />
<ellipse cx="377.7" cy="524.9" rx="16" ry="9" transform="rotate(-60 377.7 524.9)" stroke="#000" stroke-width="1.5" fill="none" />
<ellipse cx="373.7" cy="529.5" rx="3" ry="2.2" transform="rotate(-60 373.7 529.5)" stroke="#000" stroke-width="1.4" fill="none" />
<line x1="369" y1="520" x2="386" y2="530" stroke="#000" stroke-width="1.2" />
<line x1="381" y1="513" x2="373" y2="536" stroke="#000" stroke-width="1.2" />
<circle cx="377.3" cy="505.4" r="1.5" fill="#000"/>
<circle cx="394.4" cy="514.4" r="1.5" fill="#000"/>
<circle cx="377.3" cy="544.5" r="1.5" fill="#000"/>
<circle cx="360.6" cy="534.5" r="1.5" fill="#000"/>
<circle cx="361.8" cy="525.9" r="1.5" fill="#000"/>
<circle cx="392" cy="535" r="1.5" fill="#000"/>
<circle cx="377.5" cy="544" r="1.2" fill="#000"/>
<path d="M245.9 630.8L296.6 658.9L296.2 689.7L247.3 717.4L223.8 703.7L223.2 668.6Z" stroke="#000" stroke-width="1.5" fill="none" />
<line x1="237.3" y1="644.5" x2="295.6" y2="678.6" stroke="#000" stroke-width="1.5" />
<circle cx="246.9" cy="638.4" r="1.4" fill="#000"/>
<path d="M236.3 651.5L242.8 655.5L238.3 663.5L231.8 659.5Z" stroke="#000" stroke-width="1.7" fill="none" />
<ellipse cx="237.3" cy="657.5" rx="2.4" ry="2.4" transform="rotate(0 237.3 657.5)" stroke="#000" stroke-width="2.2" fill="none" />
<path d="M249.8 659L256.3 663L251.8 671L245.3 667Z" stroke="#000" stroke-width="1.7" fill="none" />
<ellipse cx="250.8" cy="665" rx="2.4" ry="2.4" transform="rotate(0 250.8 665)" stroke="#000" stroke-width="2.2" fill="none" />
<ellipse cx="102.1" cy="516.5" rx="6.3" ry="5.6" transform="rotate(-30 102.1 516.5)" stroke="#000" stroke-width="3" fill="#fcfdfb" />
<ellipse cx="103.3" cy="516.2" rx="3" ry="2.6" transform="rotate(-30 103.3 516.2)" stroke="#000" stroke-width="1.6" fill="none" />
<line x1="100" y1="513" x2="104" y2="519.5" stroke="#000" stroke-width="1" />
<ellipse cx="140.6" cy="539" rx="4.8" ry="3.4" transform="rotate(-60 140.6 539)" stroke="#000" stroke-width="3.6" fill="none" />
<line x1="189.8" y1="564.8" x2="186.2" y2="571.2" stroke="#000" stroke-width="1.6" />
<line x1="192.6" y1="566.4" x2="188.9" y2="572.8" stroke="#000" stroke-width="1.6" />
<line x1="195.3" y1="568" x2="191.7" y2="574.5" stroke="#000" stroke-width="1.6" />
<line x1="198.1" y1="569.7" x2="194.4" y2="576.1" stroke="#000" stroke-width="1.6" />
<line x1="200.8" y1="571.3" x2="197.2" y2="577.7" stroke="#000" stroke-width="1.6" />
<line x1="189.8" y1="564.8" x2="200" y2="570.7" stroke="#000" stroke-width="1" />
<line x1="186.2" y1="571.2" x2="197" y2="577.5" stroke="#000" stroke-width="1" />
<ellipse cx="205.2" cy="577.2" rx="5" ry="7.5" transform="rotate(30 205.2 577.2)" stroke="#000" stroke-width="1.4" fill="#fcfdfb" />
<line x1="203" y1="579" x2="207.5" y2="575.5" stroke="#000" stroke-width="1" />
<line x1="84.4" y1="655" x2="84.4" y2="724" stroke="#000" stroke-width="1.5" />
<ellipse cx="84.4" cy="652.8" rx="5.2" ry="3.2" transform="rotate(0 84.4 652.8)" stroke="#000" stroke-width="2" fill="#fcfdfb" />
<path d="M79.2 653L79.2 657L89.6 657L89.6 653" stroke="#000" stroke-width="1.8" fill="none" />
<line x1="81.6" y1="659" x2="87.2" y2="659" stroke="#000" stroke-width="1.3" />
<line x1="81.6" y1="661.4" x2="87.2" y2="661.4" stroke="#000" stroke-width="1.3" />
<line x1="81.6" y1="663.8" x2="87.2" y2="663.8" stroke="#000" stroke-width="1.3" />
<line x1="81.6" y1="666.2" x2="87.2" y2="666.2" stroke="#000" stroke-width="1.3" />
<line x1="81.6" y1="668.6" x2="87.2" y2="668.6" stroke="#000" stroke-width="1.3" />
<line x1="81.6" y1="671" x2="87.2" y2="671" stroke="#000" stroke-width="1.3" />
<line x1="81.6" y1="658" x2="81.6" y2="672" stroke="#000" stroke-width="1" />
<line x1="87.2" y1="658" x2="87.2" y2="672" stroke="#000" stroke-width="1" />
<ellipse cx="84.4" cy="692" rx="5.4" ry="3" transform="rotate(0 84.4 692)" stroke="#000" stroke-width="3.4" fill="#fcfdfb" />
<path d="M67 731.5L89.5 717.9L101.5 725.5L79.8 739.1Z" stroke="#000" stroke-width="2.2" fill="#fcfdfb" />
<line x1="67" y1="731.5" x2="83" y2="724.7" stroke="#000" stroke-width="0.9" />
<line x1="89.5" y1="717.9" x2="83" y2="724.7" stroke="#000" stroke-width="0.9" />
<line x1="101.5" y1="725.5" x2="83" y2="724.7" stroke="#000" stroke-width="0.9" />
<line x1="79.8" y1="739.1" x2="83" y2="724.7" stroke="#000" stroke-width="0.9" />
<circle cx="83.5" cy="724.5" r="1.8" fill="#000"/>
<line x1="84.2" y1="739" x2="84.2" y2="742" stroke="#000" stroke-width="1.5" />
<line x1="84.2" y1="762" x2="84.2" y2="772" stroke="#000" stroke-width="1.5" />
<path d="M66.2 755.3L88.3 741.7L101.9 749.3L101.9 755L95.5 758.5L93 756.5L89.5 758.5L88.5 762.5L79.8 768.2L66.2 761.5Z" stroke="#000" stroke-width="2" fill="#fcfdfb" />
<path d="M66.2 755.3L88.3 741.7L101.9 749.3L79.8 762.9Z" stroke="#000" stroke-width="1.6" fill="#1a1a1a" />
<line x1="79.8" y1="762.9" x2="79.8" y2="768" stroke="#000" stroke-width="1.5" />
<ellipse cx="74.5" cy="755.3" rx="2.3" ry="1.3" transform="rotate(-30 74.5 755.3)" stroke="#fcfdfb" stroke-width="0.1" fill="#fcfdfb" />
<ellipse cx="81.5" cy="751" rx="2.3" ry="1.3" transform="rotate(-30 81.5 751)" stroke="#fcfdfb" stroke-width="0.1" fill="#fcfdfb" />
<ellipse cx="88.5" cy="746.8" rx="2.3" ry="1.3" transform="rotate(-30 88.5 746.8)" stroke="#fcfdfb" stroke-width="0.1" fill="#fcfdfb" />
<ellipse cx="79.5" cy="758.5" rx="2.3" ry="1.3" transform="rotate(-30 79.5 758.5)" stroke="#fcfdfb" stroke-width="0.1" fill="#fcfdfb" />
<ellipse cx="86.5" cy="754.2" rx="2.3" ry="1.3" transform="rotate(-30 86.5 754.2)" stroke="#fcfdfb" stroke-width="0.1" fill="#fcfdfb" />
<ellipse cx="93.5" cy="750" rx="2.3" ry="1.3" transform="rotate(-30 93.5 750)" stroke="#fcfdfb" stroke-width="0.1" fill="#fcfdfb" />
<path d="M66.2 783.5L75 778L101.9 777L101.9 781.5L79 795L66.2 788.5Z" stroke="#000" stroke-width="2" fill="#fcfdfb" />
<path d="M66.2 783.5L79 790L101.9 777" stroke="#000" stroke-width="1.6" fill="none" />
<line x1="79" y1="790" x2="79" y2="795" stroke="#000" stroke-width="1.5" />
<path d="M72 782 L76 775 L83 777 L86 769.5 L95 770 L101 775.5 L101.5 778 L90 784.5 L84 788 L79 789.5 Z" fill="#111"/>
<ellipse cx="81" cy="777.5" rx="2.2" ry="1.4" transform="rotate(-30 81 777.5)" stroke="#fcfdfb" stroke-width="0.1" fill="#fcfdfb" />
<ellipse cx="88" cy="782" rx="2.4" ry="1.5" transform="rotate(-30 88 782)" stroke="#fcfdfb" stroke-width="0.1" fill="#fcfdfb" />
<defs><pattern id="stip" width="2.4" height="2.4" patternUnits="userSpaceOnUse"><rect width="2.4" height="2.4" fill="#ececec"/><rect x="0" y="0" width="1.2" height="1.2" fill="#333"/></pattern></defs>
<path d="M69.3 841.7L88.7 809.2L126.5 830.3Z" stroke="#111" stroke-width="1.4" fill="url(#stip)" />
<path d="M103.8 811.6L118.8 803.2L136.6 814.3L122.2 822.6Z" stroke="#111" stroke-width="1.4" fill="url(#stip)" />
<path d="M122.2 800.2L137.3 791.5L155.7 802.5L140.6 810.9Z" stroke="#111" stroke-width="1.4" fill="url(#stip)" />
<path d="M141.6 787.5L157.4 779.1L176.4 791.5L160 799.9Z" stroke="#111" stroke-width="1.4" fill="url(#stip)" />
<line x1="372.7" y1="518.4" x2="586" y2="641.5" stroke="#000" stroke-width="1.5" />
<line x1="640" y1="673" x2="648" y2="677.5" stroke="#000" stroke-width="1.5" />
<line x1="720" y1="719" x2="1011" y2="888" stroke="#000" stroke-width="1.5" />
<ellipse cx="445.6" cy="561.3" rx="12.2" ry="8" transform="rotate(-60 445.6 561.3)" stroke="#000" stroke-width="3.2" fill="none" />
<path d="M440.7 557.1C441 556.8 441.8 555.7 442.3 555C442.9 554.4 443.5 553.7 444.2 553.2C444.8 552.7 445.5 552.2 446.2 551.8C446.9 551.4 447.6 551.1 448.2 550.9C448.9 550.7 449.6 550.5 450.2 550.5C450.9 550.4 451.5 550.5 452.1 550.6C452.7 550.7 453.3 550.9 453.8 551.2C454.3 551.5 454.8 551.9 455.2 552.3C455.6 552.8 455.9 553.3 456.2 553.9C456.5 554.5 456.7 555.2 456.9 555.9C457 556.6 457.1 557.3 457.1 558.1C457.1 558.9 457 559.7 456.9 560.5C456.7 561.4 456.5 562.2 456.2 563C456 563.9 455.4 565.1 455.2 565.5" stroke="#000" stroke-width="1.1" fill="none" />
<ellipse cx="472.8" cy="577.2" rx="12" ry="7.8" transform="rotate(-60 472.8 577.2)" stroke="#000" stroke-width="3.8" fill="none" />
<ellipse cx="496.9" cy="591.3" rx="13" ry="8.5" transform="rotate(-60 496.9 591.3)" stroke="#000" stroke-width="1.4" fill="#fcfdfb" />
<ellipse cx="496.9" cy="591.3" rx="8.5" ry="5.5" transform="rotate(-60 496.9 591.3)" stroke="#000" stroke-width="2.8" fill="none" />
<path d="M506.5 590C506.4 590.4 506.2 591.6 505.9 592.4C505.6 593.2 505.3 594 504.9 594.8C504.4 595.6 504 596.4 503.5 597.1C503 597.8 502.4 598.5 501.8 599.1C501.2 599.7 500.6 600.3 500 600.8C499.4 601.3 498.7 601.7 498 602C497.4 602.3 496.7 602.6 496.1 602.7C495.5 602.9 494.8 603 494.2 602.9C493.6 602.9 493.1 602.8 492.5 602.6C492 602.4 491.5 602.1 491.1 601.7C490.7 601.4 490.2 600.6 490 600.4" stroke="#000" stroke-width="0.9" fill="none" />
<ellipse cx="519.4" cy="604.3" rx="12.3" ry="7.6" transform="rotate(-60 519.4 604.3)" stroke="#000" stroke-width="2.6" fill="none" />
<ellipse cx="541.1" cy="616.7" rx="12.6" ry="8.1" transform="rotate(-60 541.1 616.7)" stroke="#000" stroke-width="1.5" fill="#fcfdfb" />
<ellipse cx="544.9" cy="618.8" rx="12.6" ry="8.1" transform="rotate(-60 544.9 618.8)" stroke="#000" stroke-width="1.2" fill="#fcfdfb" />
<ellipse cx="544.9" cy="618.8" rx="10.2" ry="6.1" transform="rotate(-60 544.9 618.8)" stroke="#000" stroke-width="4.8" fill="none" />
<line x1="542.6" y1="617.4" x2="547.1" y2="620" stroke="#000" stroke-width="1.1" />
<line x1="546.1" y1="616" x2="543.5" y2="621.4" stroke="#000" stroke-width="1.1" />
<ellipse cx="570.7" cy="634.1" rx="12.2" ry="8" transform="rotate(-60 570.7 634.1)" stroke="#000" stroke-width="3.2" fill="none" />
<path d="M565.8 629.9C566.1 629.6 566.9 628.5 567.4 627.8C568 627.2 568.6 626.5 569.3 626C569.9 625.5 570.6 625 571.3 624.6C572 624.2 572.7 623.9 573.3 623.7C574 623.5 574.7 623.3 575.3 623.3C576 623.2 576.6 623.3 577.2 623.4C577.8 623.5 578.4 623.7 578.9 624C579.4 624.3 579.9 624.7 580.3 625.1C580.7 625.6 581 626.1 581.3 626.7C581.6 627.3 581.8 628 582 628.7C582.1 629.4 582.2 630.1 582.2 630.9C582.2 631.7 582.1 632.5 582 633.3C581.8 634.2 581.6 635 581.3 635.8C581.1 636.7 580.5 637.9 580.3 638.3" stroke="#000" stroke-width="1.1" fill="none" />
<path d="M586.3 678.5C585.5 677.3 582.3 674.9 581.3 671.5C580.3 668.1 579.5 662.9 580.3 658.4C581.1 653.9 583.6 648.8 586.3 644.4C589 640 592.5 635.5 596.4 632.3C600.2 629.1 605.9 626.1 609.4 625.3C612.9 624.5 615.3 626 617.5 627.3C619.7 628.6 621.3 630.9 622.5 633.3C623.7 635.7 624.6 638.9 624.8 641.5C625 644.1 623.7 647.8 623.5 649" stroke="#000" stroke-width="2.6" fill="none" />
<path d="M584.8 672C584.6 669.8 582.9 663.4 583.6 659C584.3 654.6 586.5 649.9 589 645.8C591.5 641.7 594.9 637.5 598.4 634.6C601.9 631.7 607.9 629.3 609.8 628.3" stroke="#000" stroke-width="1.1" fill="none" />
<line x1="606.4" y1="638.3" x2="642.6" y2="658.4" stroke="#000" stroke-width="1.7" />
<line x1="596.4" y1="668.5" x2="622.5" y2="682.5" stroke="#000" stroke-width="1.7" />
<path d="M606.4 638.7C605.1 639.7 600.6 641.8 598.4 644.4C596.2 647 594.4 651 593.4 654.4C592.4 657.8 591.9 662 592.4 664.5C592.9 667 595.7 668.7 596.4 669.5" stroke="#000" stroke-width="1.5" fill="none" />
<ellipse cx="632.5" cy="669.5" rx="17" ry="9.8" transform="rotate(-60 632.5 669.5)" stroke="#000" stroke-width="2.8" fill="#fcfdfb" />
<path d="M638 657.1C638.1 657.3 638.7 657.7 639.1 658.1C639.4 658.5 639.6 659 639.8 659.5C640 660.1 640.2 660.7 640.2 661.4C640.3 662.1 640.3 662.8 640.2 663.6C640.2 664.3 640 665.2 639.8 666C639.6 666.8 639.4 667.7 639.1 668.5C638.7 669.4 638.4 670.2 637.9 671.1C637.5 671.9 637 672.7 636.5 673.5C636 674.3 635.5 675 634.9 675.7C634.3 676.4 633.7 677.1 633.1 677.7C632.5 678.3 631.8 678.8 631.2 679.2C630.6 679.7 629.9 680 629.3 680.3C628.7 680.6 628.1 680.8 627.5 680.9C626.9 681 626.4 681 625.9 681C625.3 680.9 624.9 680.7 624.5 680.5C624 680.2 623.7 679.9 623.3 679.5C623 679.1 622.8 678.6 622.6 678.1C622.4 677.5 622.2 676.9 622.2 676.2C622.1 675.5 622.1 674.8 622.2 674C622.2 673.3 622.4 672.4 622.6 671.6C622.8 670.8 623 669.9 623.3 669.1C623.7 668.2 624 667.4 624.5 666.5C624.9 665.7 625.4 664.9 625.9 664.1C626.4 663.3 626.9 662.6 627.5 661.9C628.1 661.2 628.7 660.5 629.3 659.9C629.9 659.3 630.6 658.8 631.2 658.4C631.8 657.9 632.5 657.6 633.1 657.3C633.7 657 634.3 656.8 634.9 656.7C635.5 656.6 636 656.6 636.5 656.6C637.1 656.7 637.7 657 638 657.1" stroke="#000" stroke-width="1.5" fill="none" />
<line x1="625" y1="665.5" x2="640" y2="674" stroke="#000" stroke-width="1.2" />
<circle cx="602.8" cy="633.9" r="1.6" fill="#000"/>
<circle cx="619.5" cy="642.4" r="1.6" fill="#000"/>
<circle cx="587.3" cy="654.8" r="1.6" fill="#000"/>
<circle cx="585.9" cy="663.5" r="1.6" fill="#000"/>
<path d="M590.4 656L598.4 660.4L595.4 665.5" stroke="#000" stroke-width="1.3" fill="none" />
<line x1="587.5" y1="680" x2="587.5" y2="726" stroke="#000" stroke-width="1.3" stroke-dasharray="1.3 1.1" stroke-linecap="butt"/>
<line x1="589.1" y1="681.2" x2="589.1" y2="726" stroke="#000" stroke-width="1.3" stroke-dasharray="1.3 1.1" stroke-linecap="butt"/>
<path d="M587.3 726.4L580.3 731.4L580.3 761.5L583.5 762.5L590.4 758.5" stroke="#000" stroke-width="1.8" fill="none" />
<line x1="581.8" y1="733" x2="581.8" y2="760" stroke="#000" stroke-width="1.2" stroke-dasharray="1.3 1.1" stroke-linecap="butt"/>
<line x1="583.2" y1="734.2" x2="583.2" y2="760" stroke="#000" stroke-width="1.2" stroke-dasharray="1.3 1.1" stroke-linecap="butt"/>
<line x1="590.4" y1="667" x2="590.4" y2="758.5" stroke="#000" stroke-width="1.5" />
<line x1="598.4" y1="670.5" x2="598.4" y2="762" stroke="#000" stroke-width="1.5" />
<line x1="622.5" y1="682.5" x2="622.5" y2="749.5" stroke="#000" stroke-width="1.7" />
<line x1="624.2" y1="708" x2="624.2" y2="737" stroke="#000" stroke-width="1.6" stroke-dasharray="1.3 1.1" stroke-linecap="butt"/>
<path d="M590.4 758.5L598.4 762.1L622.5 749.5" stroke="#000" stroke-width="1.7" fill="none" />
<ellipse cx="606" cy="748.5" rx="3.2" ry="1.8" transform="rotate(-45 606 748.5)" stroke="#000" stroke-width="1.6" fill="none" />
<path d="M608.4 676.5L610.4 681.5L613.5 678.5" stroke="#000" stroke-width="1.2" fill="none" />
<line x1="596.4" y1="668.5" x2="599" y2="671.5" stroke="#000" stroke-width="1.3" />
<circle cx="584" cy="732.8" r="1.4" fill="#000"/><circle cx="584.5" cy="757.5" r="1.4" fill="#000"/>
<line x1="701.3" y1="608.6" x2="634" y2="648.6" stroke="#000" stroke-width="1.5" />
<ellipse cx="706.9" cy="605.8" rx="5.6" ry="4.6" transform="rotate(-30 706.9 605.8)" stroke="#000" stroke-width="1.2" fill="#111" />
<line x1="704" y1="603" x2="709" y2="603.5" stroke="#999" stroke-width="0.8" />
<line x1="704" y1="607" x2="710" y2="607.5" stroke="#999" stroke-width="0.8" />
<line x1="463.6" y1="739.3" x2="586" y2="669.5" stroke="#000" stroke-width="1.5" />
<line x1="494.7" y1="697.7" x2="492.9" y2="691.3" stroke="#000" stroke-width="1.7" />
<line x1="492.5" y1="699" x2="490.7" y2="692.6" stroke="#000" stroke-width="1.7" />
<line x1="490.3" y1="700.3" x2="488.4" y2="693.9" stroke="#000" stroke-width="1.7" />
<line x1="488.1" y1="701.6" x2="486.2" y2="695.2" stroke="#000" stroke-width="1.7" />
<line x1="485.9" y1="702.9" x2="484" y2="696.4" stroke="#000" stroke-width="1.7" />
<line x1="483.6" y1="704.1" x2="481.8" y2="697.7" stroke="#000" stroke-width="1.7" />
<line x1="481.4" y1="705.4" x2="479.6" y2="699" stroke="#000" stroke-width="1.7" />
<line x1="495.4" y1="697.3" x2="482.1" y2="705" stroke="#000" stroke-width="1.1" />
<line x1="492.2" y1="691.7" x2="478.9" y2="699.4" stroke="#000" stroke-width="1.1" />
<path d="M490.9 692.6L492.3 688.1L496.8 689.2L499.9 694.6L498.6 699.1L494.1 698Z" stroke="#000" stroke-width="1.4" fill="#fcfdfb" />
<path d="M493.5 691.1L494.9 686.6L499.4 687.7L502.5 693.1L501.2 697.6L496.7 696.5Z" stroke="#000" stroke-width="1.7" fill="#fcfdfb" />
<ellipse cx="498" cy="692.1" rx="2.6" ry="4.4" transform="rotate(150 498 692.1)" stroke="#000" stroke-width="1.0" fill="none" />
<path d="M480.5 703L430.4 731.3L471.2 755.4L459.6 762.4" stroke="#000" stroke-width="1.5" fill="none" />
<ellipse cx="452.5" cy="718.8" rx="5.4" ry="3.5" transform="rotate(60 452.5 718.8)" stroke="#000" stroke-width="3.3" fill="#fcfdfb" />
<line x1="359.1" y1="741.3" x2="436.5" y2="787.5" stroke="#000" stroke-width="1.5" />
<line x1="410.4" y1="769.8" x2="446.5" y2="749.3" stroke="#000" stroke-width="1.5" />
<ellipse cx="352.5" cy="738.7" rx="6.8" ry="6" transform="rotate(-30 352.5 738.7)" stroke="#000" stroke-width="2.8" fill="#fcfdfb" />
<ellipse cx="353.8" cy="738.2" rx="3.4" ry="2.8" transform="rotate(-30 353.8 738.2)" stroke="#000" stroke-width="1.6" fill="none" />
<path d="M347 734L351 732.5L356 734.5" stroke="#000" stroke-width="1" fill="none" />
<ellipse cx="389.3" cy="759.8" rx="5.4" ry="3.5" transform="rotate(-60 389.3 759.8)" stroke="#000" stroke-width="3.3" fill="#fcfdfb" />
<path d="M434.5 761.4L443.5 756.8L497.7 787.5L502.4 813.6L493.7 819.1L448.9 793.5" stroke="#000" stroke-width="1.9" fill="none" />
<path d="M434.5 761.4L441.5 805.6L448.5 801.6L447.1 770.4" stroke="#000" stroke-width="1.9" fill="none" />
<path d="M437.5 764L490.2 793L497.7 787.5" stroke="#000" stroke-width="1.9" fill="none" />
<line x1="490.2" y1="793" x2="493.7" y2="819.1" stroke="#000" stroke-width="1.9" />
<path d="M451.5 772.5L450.5 790.5L456.6 790.5L457.6 775.5" stroke="#000" stroke-width="1.4" fill="none" />
<circle cx="445.5" cy="792.1" r="1.4" fill="#000"/><circle cx="443.8" cy="801.3" r="1.6" fill="#000"/>
<line x1="434.5" y1="761.4" x2="437.5" y2="764" stroke="#000" stroke-width="1.4" />
<line x1="493.7" y1="819" x2="505" y2="825.7" stroke="#000" stroke-width="1.5" />
<line x1="517.4" y1="836.4" x2="522" y2="831.5" stroke="#000" stroke-width="1.7" />
<line x1="514.9" y1="835" x2="519.5" y2="830.1" stroke="#000" stroke-width="1.7" />
<line x1="512.5" y1="833.6" x2="517.1" y2="828.8" stroke="#000" stroke-width="1.7" />
<line x1="510.1" y1="832.3" x2="514.6" y2="827.4" stroke="#000" stroke-width="1.7" />
<line x1="507.6" y1="830.9" x2="512.2" y2="826" stroke="#000" stroke-width="1.7" />
<line x1="505.2" y1="829.5" x2="509.7" y2="824.6" stroke="#000" stroke-width="1.7" />
<line x1="502.7" y1="828.1" x2="507.3" y2="823.3" stroke="#000" stroke-width="1.7" />
<line x1="518.1" y1="836.8" x2="503.4" y2="828.5" stroke="#000" stroke-width="1.1" />
<line x1="521.3" y1="831.1" x2="506.6" y2="822.9" stroke="#000" stroke-width="1.1" />
<path d="M520 830.4L524.6 829.2L526 833.8L522.9 839.5L518.2 840.6L516.8 836Z" stroke="#000" stroke-width="1.4" fill="#fcfdfb" />
<path d="M522.6 831.8L527.2 830.7L528.7 835.3L525.5 840.9L520.8 842.1L519.4 837.5Z" stroke="#000" stroke-width="1.7" fill="#fcfdfb" />
<ellipse cx="524" cy="836.4" rx="2.7" ry="4.5" transform="rotate(-150.7 524 836.4)" stroke="#000" stroke-width="1.0" fill="none" />
<line x1="551.4" y1="736.5" x2="546.9" y2="741.5" stroke="#000" stroke-width="1.7" />
<line x1="553.7" y1="737.8" x2="549.2" y2="742.7" stroke="#000" stroke-width="1.7" />
<line x1="556" y1="739.1" x2="551.5" y2="744" stroke="#000" stroke-width="1.7" />
<line x1="558.3" y1="740.3" x2="553.8" y2="745.3" stroke="#000" stroke-width="1.7" />
<line x1="560.6" y1="741.6" x2="556.1" y2="746.5" stroke="#000" stroke-width="1.7" />
<line x1="563" y1="742.9" x2="558.4" y2="747.8" stroke="#000" stroke-width="1.7" />
<line x1="565.3" y1="744.1" x2="560.7" y2="749.1" stroke="#000" stroke-width="1.7" />
<line x1="550.7" y1="736.2" x2="564.6" y2="743.7" stroke="#000" stroke-width="1.1" />
<line x1="547.6" y1="741.9" x2="561.4" y2="749.5" stroke="#000" stroke-width="1.1" />
<path d="M548.9 742.6L544.3 743.8L542.8 739.2L545.9 733.5L550.5 732.4L552 736.9Z" stroke="#000" stroke-width="1.4" fill="#fcfdfb" />
<path d="M546.3 741.2L541.7 742.3L540.2 737.8L543.3 732.1L547.9 730.9L549.4 735.5Z" stroke="#000" stroke-width="1.7" fill="#fcfdfb" />
<ellipse cx="544.8" cy="736.6" rx="2.7" ry="4.5" transform="rotate(28.7 544.8 736.6)" stroke="#000" stroke-width="1.0" fill="none" />
<line x1="563" y1="746.6" x2="580.3" y2="756.5" stroke="#000" stroke-width="1.5" />
<line x1="592" y1="763.5" x2="630" y2="785.7" stroke="#000" stroke-width="1.5" />
<ellipse cx="604" cy="770.2" rx="6.2" ry="5" transform="rotate(-30 604 770.2)" stroke="#000" stroke-width="1.6" fill="#fcfdfb" />
<ellipse cx="604" cy="770.2" rx="2.6" ry="2.1" transform="rotate(-30 604 770.2)" stroke="#000" stroke-width="1.8" fill="none" />
<ellipse cx="635.6" cy="789.7" rx="6.8" ry="6" transform="rotate(-30 635.6 789.7)" stroke="#000" stroke-width="2.6" fill="#fcfdfb" />
<ellipse cx="634.6" cy="789.1" rx="3.4" ry="2.8" transform="rotate(-30 634.6 789.1)" stroke="#000" stroke-width="1.6" fill="none" />
<path d="M630 794L634 796.5L640 795" stroke="#000" stroke-width="1" fill="none" />
<path d="M652.7 678.2L671.8 689.2L672.3 688.3L699.1 703.9L698.4 705L701.9 707L702.6 705.9L718.1 714.9" stroke="#000" stroke-width="1.5" fill="none" />
<path d="M646.2 685.4L665.2 696.5L664.6 697.5L691.4 713.1L692.1 711.9L695.5 713.9L694.9 715.1L710.9 724.4" stroke="#000" stroke-width="1.5" fill="none" />
<ellipse cx="649.3" cy="681.7" rx="2.2" ry="4.9" transform="rotate(30.2 649.3 681.7)" stroke="#000" stroke-width="1.4" fill="none" />
<path d="M671.4 687.8C671.5 687.8 671.7 688 671.8 688.1C671.9 688.3 671.9 688.4 672 688.7C672 688.9 672 689.1 672 689.4C672 689.7 671.9 690 671.9 690.3C671.8 690.6 671.7 690.9 671.6 691.3C671.5 691.6 671.4 692 671.2 692.3C671 692.7 670.9 693.1 670.7 693.4C670.5 693.8 670.3 694.2 670.1 694.5C669.8 694.8 669.6 695.2 669.4 695.5C669.1 695.8 668.9 696.1 668.6 696.4C668.4 696.6 668.1 696.9 667.9 697.1C667.7 697.3 667.4 697.5 667.2 697.6C667 697.8 666.7 697.9 666.5 698C666.3 698.1 666.1 698.1 666 698.1C665.8 698.1 665.6 698 665.5 698" stroke="#000" stroke-width="1.2" fill="none" />
<path d="M698.2 703.4C698.3 703.4 698.5 703.6 698.6 703.7C698.7 703.9 698.7 704 698.8 704.3C698.8 704.5 698.8 704.7 698.8 705C698.8 705.3 698.7 705.6 698.7 705.9C698.6 706.2 698.5 706.5 698.4 706.9C698.3 707.2 698.2 707.6 698 707.9C697.8 708.3 697.7 708.7 697.5 709C697.3 709.4 697.1 709.8 696.9 710.1C696.6 710.4 696.4 710.8 696.2 711.1C695.9 711.4 695.7 711.7 695.4 712C695.2 712.2 694.9 712.5 694.7 712.7C694.5 712.9 694.2 713.1 694 713.2C693.8 713.4 693.5 713.5 693.3 713.6C693.1 713.6 692.9 713.7 692.8 713.7C692.6 713.7 692.4 713.6 692.3 713.6" stroke="#000" stroke-width="1.2" fill="none" />
<path d="M701.7 705.4C701.8 705.4 701.9 705.6 702 705.7C702.1 705.9 702.2 706.1 702.2 706.3C702.2 706.5 702.3 706.7 702.2 707C702.2 707.3 702.2 707.6 702.1 707.9C702.1 708.2 702 708.5 701.9 708.9C701.7 709.2 701.6 709.6 701.5 710C701.3 710.3 701.1 710.7 700.9 711C700.7 711.4 700.5 711.8 700.3 712.1C700.1 712.5 699.9 712.8 699.6 713.1C699.4 713.4 699.1 713.7 698.9 714C698.6 714.3 698.4 714.5 698.2 714.7C697.9 714.9 697.7 715.1 697.4 715.3C697.2 715.4 697 715.5 696.8 715.6C696.6 715.7 696.4 715.7 696.2 715.7C696 715.7 695.8 715.6 695.8 715.6" stroke="#000" stroke-width="1.2" fill="none" />
<ellipse cx="714.5" cy="719.7" rx="3.3" ry="5.9" transform="rotate(30.2 714.5 719.7)" stroke="#000" stroke-width="1.5" fill="#fcfdfb" />
<ellipse cx="714.8" cy="719.9" rx="1.4" ry="2.4" transform="rotate(30.2 714.8 719.9)" stroke="#000" stroke-width="1.3" fill="none" />
<line x1="654.5" y1="681" x2="664.9" y2="687.1" stroke="#000" stroke-width="2.6" />
<line x1="702.6" y1="709.8" x2="712.1" y2="715.4" stroke="#000" stroke-width="2.8" />
<line x1="657.3" y1="667.9" x2="665" y2="672.1" stroke="#000" stroke-width="4.8" />
<line x1="657.3" y1="667.9" x2="665" y2="672.1" stroke="#fcfdfb" stroke-width="1.3" />
<line x1="705.2" y1="694" x2="714.2" y2="698.9" stroke="#000" stroke-width="4.8" />
<line x1="705.2" y1="694" x2="714.2" y2="698.9" stroke="#fcfdfb" stroke-width="1.3" />
<ellipse cx="737.2" cy="729.8" rx="12.2" ry="8" transform="rotate(-60 737.2 729.8)" stroke="#000" stroke-width="3.2" fill="none" />
<path d="M732.3 725.6C732.6 725.3 733.4 724.2 733.9 723.5C734.5 722.9 735.1 722.2 735.8 721.7C736.4 721.2 737.1 720.7 737.8 720.3C738.5 719.9 739.2 719.6 739.8 719.4C740.5 719.2 741.2 719 741.8 719C742.5 718.9 743.1 719 743.7 719.1C744.3 719.2 744.9 719.4 745.4 719.7C745.9 720 746.4 720.4 746.8 720.8C747.2 721.3 747.5 721.8 747.8 722.4C748.1 723 748.3 723.7 748.5 724.4C748.6 725.1 748.7 725.8 748.7 726.6C748.7 727.4 748.6 728.2 748.5 729C748.3 729.9 748.1 730.7 747.8 731.5C747.6 732.4 747 733.6 746.8 734" stroke="#000" stroke-width="1.1" fill="none" />
<ellipse cx="762" cy="744.9" rx="12.6" ry="8.1" transform="rotate(-60 762 744.9)" stroke="#000" stroke-width="1.5" fill="#fcfdfb" />
<ellipse cx="765.8" cy="747" rx="12.6" ry="8.1" transform="rotate(-60 765.8 747)" stroke="#000" stroke-width="1.2" fill="#fcfdfb" />
<ellipse cx="765.8" cy="747" rx="10.2" ry="6.1" transform="rotate(-60 765.8 747)" stroke="#000" stroke-width="4.8" fill="none" />
<line x1="763.5" y1="745.6" x2="768" y2="748.2" stroke="#000" stroke-width="1.1" />
<line x1="767" y1="744.2" x2="764.4" y2="749.6" stroke="#000" stroke-width="1.1" />
<ellipse cx="788.4" cy="759.9" rx="12.3" ry="7.6" transform="rotate(-60 788.4 759.9)" stroke="#000" stroke-width="2.6" fill="none" />
<ellipse cx="812.9" cy="774" rx="13" ry="8.5" transform="rotate(-60 812.9 774)" stroke="#000" stroke-width="1.4" fill="#fcfdfb" />
<ellipse cx="812.9" cy="774" rx="8.5" ry="5.5" transform="rotate(-60 812.9 774)" stroke="#000" stroke-width="2.8" fill="none" />
<path d="M822.5 772.7C822.4 773.1 822.2 774.3 821.9 775.1C821.6 775.9 821.3 776.7 820.9 777.5C820.4 778.3 820 779.1 819.5 779.8C819 780.5 818.4 781.2 817.8 781.8C817.2 782.4 816.6 783 816 783.5C815.4 784 814.7 784.4 814 784.7C813.4 785 812.7 785.3 812.1 785.4C811.5 785.6 810.8 785.7 810.2 785.6C809.6 785.6 809.1 785.5 808.5 785.3C808 785.1 807.5 784.8 807.1 784.4C806.7 784.1 806.2 783.3 806 783.1" stroke="#000" stroke-width="0.9" fill="none" />
<ellipse cx="840.6" cy="789.8" rx="12.6" ry="8.2" transform="rotate(-60 840.6 789.8)" stroke="#000" stroke-width="1.6" fill="none" />
<ellipse cx="840.4" cy="789.6" rx="9.6" ry="5.8" transform="rotate(-60 840.4 789.6)" stroke="#000" stroke-width="2.2" fill="none" />
<ellipse cx="869.1" cy="806.5" rx="12.2" ry="8" transform="rotate(-60 869.1 806.5)" stroke="#000" stroke-width="3.4" fill="none" />
<path d="M864.2 802.3C864.5 802 865.3 800.9 865.8 800.2C866.4 799.6 867 798.9 867.7 798.4C868.3 797.9 869 797.4 869.7 797C870.4 796.6 871.1 796.3 871.7 796.1C872.4 795.9 873.1 795.7 873.7 795.7C874.4 795.6 875 795.7 875.6 795.8C876.2 795.9 876.8 796.1 877.3 796.4C877.8 796.7 878.3 797.1 878.7 797.5C879.1 798 879.4 798.5 879.7 799.1C880 799.7 880.2 800.4 880.4 801.1C880.5 801.8 880.6 802.5 880.6 803.3C880.6 804.1 880.5 804.9 880.4 805.7C880.2 806.6 880 807.4 879.7 808.2C879.5 809.1 878.9 810.3 878.7 810.7" stroke="#000" stroke-width="1.1" fill="none" />
<ellipse cx="892.2" cy="820.6" rx="6" ry="4" transform="rotate(-60 892.2 820.6)" stroke="#000" stroke-width="3.6" fill="#fcfdfb" />
<ellipse cx="926" cy="842.5" rx="34.4" ry="18.5" transform="rotate(-60 926 842.5)" stroke="#000" stroke-width="1.6" fill="#fcfdfb" />
<ellipse cx="930.3" cy="845" rx="34.4" ry="18.5" transform="rotate(-60 930.3 845)" stroke="#fcfdfb" stroke-width="0.01" fill="#fcfdfb" />
<path d="M915.5 875.8C914.9 875.5 913 874.8 912 874C910.9 873.2 910 872.1 909.3 870.9C908.5 869.7 907.9 868.2 907.5 866.6C907.1 865 906.9 863.3 906.8 861.4C906.8 859.5 906.9 857.5 907.2 855.4C907.5 853.3 908 851.1 908.6 848.9C909.2 846.7 910 844.4 911 842.2C911.9 840.1 913.1 837.8 914.3 835.7C915.5 833.6 916.9 831.5 918.3 829.6C919.7 827.7 921.3 825.8 922.9 824.2C924.4 822.5 926.1 821 927.8 819.7C929.4 818.4 931.1 817.3 932.8 816.4C934.4 815.5 936.1 814.8 937.7 814.4C939.3 814 940.8 813.7 942.2 813.8C943.7 813.8 945 814.1 946.3 814.6C947.5 815.1 949 816.4 949.6 816.8" stroke="#000" stroke-width="1.7" fill="none" />
<ellipse cx="934.6" cy="847.4" rx="34.4" ry="18.5" transform="rotate(-60 934.6 847.4)" stroke="#fcfdfb" stroke-width="0.01" fill="#fcfdfb" />
<path d="M919.8 878.2C919.2 877.9 917.3 877.3 916.3 876.5C915.2 875.6 914.3 874.6 913.6 873.4C912.8 872.1 912.2 870.7 911.8 869.1C911.4 867.5 911.2 865.7 911.1 863.8C911.1 862 911.2 859.9 911.5 857.8C911.8 855.8 912.3 853.6 912.9 851.4C913.5 849.2 914.3 846.9 915.3 844.7C916.2 842.5 917.4 840.3 918.6 838.2C919.8 836.1 921.2 834 922.6 832.1C924 830.2 925.6 828.3 927.2 826.7C928.7 825 930.4 823.5 932.1 822.2C933.7 820.9 935.4 819.8 937.1 818.9C938.7 818 940.4 817.3 942 816.9C943.6 816.4 945.1 816.2 946.5 816.2C948 816.3 949.3 816.5 950.6 817C951.8 817.5 953.3 818.9 953.9 819.2" stroke="#000" stroke-width="1.7" fill="none" />
<ellipse cx="938.9" cy="849.9" rx="34.4" ry="18.5" transform="rotate(-60 938.9 849.9)" stroke="#fcfdfb" stroke-width="0.01" fill="#fcfdfb" />
<path d="M924.1 880.7C923.5 880.4 921.6 879.7 920.6 878.9C919.5 878.1 918.6 877.1 917.9 875.8C917.1 874.6 916.5 873.2 916.1 871.6C915.7 870 915.5 868.2 915.4 866.3C915.4 864.4 915.5 862.4 915.8 860.3C916.1 858.2 916.6 856 917.2 853.8C917.8 851.6 918.6 849.4 919.6 847.2C920.5 845 921.7 842.8 922.9 840.6C924.1 838.5 925.5 836.5 926.9 834.5C928.3 832.6 929.9 830.8 931.5 829.1C933 827.5 934.7 826 936.4 824.7C938 823.4 939.7 822.2 941.4 821.3C943 820.5 944.7 819.8 946.3 819.3C947.9 818.9 949.4 818.7 950.8 818.7C952.3 818.7 953.6 819 954.9 819.5C956.1 820 957.6 821.3 958.2 821.7" stroke="#000" stroke-width="1.7" fill="none" />
<ellipse cx="943.2" cy="852.4" rx="34.4" ry="18.5" transform="rotate(-60 943.2 852.4)" stroke="#fcfdfb" stroke-width="0.01" fill="#fcfdfb" />
<path d="M928.4 883.2C927.8 882.9 925.9 882.2 924.9 881.4C923.8 880.6 922.9 879.5 922.2 878.3C921.4 877.1 920.8 875.6 920.4 874C920 872.4 919.8 870.7 919.7 868.8C919.7 866.9 919.8 864.9 920.1 862.8C920.4 860.7 920.9 858.5 921.5 856.3C922.1 854.1 922.9 851.8 923.9 849.6C924.8 847.5 926 845.2 927.2 843.1C928.4 841 929.8 838.9 931.2 837C932.6 835.1 934.2 833.2 935.8 831.6C937.3 829.9 939 828.4 940.7 827.1C942.3 825.8 944 824.7 945.7 823.8C947.3 822.9 949 822.2 950.6 821.8C952.2 821.4 953.7 821.1 955.1 821.2C956.6 821.2 957.9 821.5 959.2 822C960.4 822.5 961.9 823.8 962.5 824.2" stroke="#000" stroke-width="1.7" fill="none" />
<ellipse cx="947.5" cy="854.8" rx="34.4" ry="18.5" transform="rotate(-60 947.5 854.8)" stroke="#fcfdfb" stroke-width="0.01" fill="#fcfdfb" />
<path d="M932.7 885.6C932.1 885.3 930.2 884.7 929.2 883.9C928.1 883 927.2 882 926.5 880.8C925.7 879.5 925.1 878.1 924.7 876.5C924.3 874.9 924.1 873.1 924 871.2C924 869.4 924.1 867.3 924.4 865.2C924.7 863.2 925.2 861 925.8 858.8C926.4 856.6 927.2 854.3 928.2 852.1C929.1 849.9 930.3 847.7 931.5 845.6C932.7 843.5 934.1 841.4 935.5 839.5C936.9 837.6 938.5 835.7 940.1 834.1C941.6 832.4 943.3 830.9 945 829.6C946.6 828.3 948.3 827.2 950 826.3C951.6 825.4 953.3 824.7 954.9 824.3C956.5 823.8 958 823.6 959.4 823.6C960.9 823.7 962.2 823.9 963.5 824.4C964.7 824.9 966.2 826.3 966.8 826.6" stroke="#000" stroke-width="1.7" fill="none" />
<ellipse cx="951.8" cy="857.3" rx="34.4" ry="18.5" transform="rotate(-60 951.8 857.3)" stroke="#fcfdfb" stroke-width="0.01" fill="#fcfdfb" />
<path d="M937 888.1C936.4 887.8 934.5 887.1 933.5 886.3C932.4 885.5 931.5 884.5 930.8 883.2C930 882 929.4 880.6 929 879C928.6 877.4 928.4 875.6 928.3 873.7C928.3 871.8 928.4 869.8 928.7 867.7C929 865.6 929.5 863.4 930.1 861.2C930.7 859 931.5 856.8 932.5 854.6C933.4 852.4 934.6 850.2 935.8 848.1C937 845.9 938.4 843.9 939.8 841.9C941.2 840 942.8 838.2 944.4 836.5C945.9 834.9 947.6 833.4 949.3 832.1C950.9 830.8 952.6 829.6 954.3 828.7C955.9 827.9 957.6 827.2 959.2 826.7C960.8 826.3 962.3 826.1 963.7 826.1C965.2 826.1 966.5 826.4 967.8 826.9C969 827.4 970.5 828.7 971.1 829.1" stroke="#000" stroke-width="1.7" fill="none" />
<ellipse cx="956.1" cy="859.8" rx="34.4" ry="18.5" transform="rotate(-60 956.1 859.8)" stroke="#fcfdfb" stroke-width="0.01" fill="#fcfdfb" />
<path d="M941.3 890.6C940.7 890.3 938.8 889.6 937.8 888.8C936.7 888 935.8 886.9 935.1 885.7C934.3 884.5 933.7 883 933.3 881.4C932.9 879.8 932.7 878.1 932.6 876.2C932.6 874.3 932.7 872.3 933 870.2C933.3 868.1 933.8 865.9 934.4 863.7C935 861.5 935.8 859.2 936.8 857C937.7 854.9 938.9 852.6 940.1 850.5C941.3 848.4 942.7 846.3 944.1 844.4C945.5 842.5 947.1 840.6 948.7 839C950.2 837.3 951.9 835.8 953.6 834.5C955.2 833.2 956.9 832.1 958.6 831.2C960.2 830.3 961.9 829.6 963.5 829.2C965.1 828.8 966.6 828.5 968 828.6C969.5 828.6 970.8 828.9 972.1 829.4C973.3 829.9 974.8 831.2 975.4 831.6" stroke="#000" stroke-width="1.7" fill="none" />
<ellipse cx="960.4" cy="862.2" rx="34.4" ry="18.5" transform="rotate(-60 960.4 862.2)" stroke="#fcfdfb" stroke-width="0.01" fill="#fcfdfb" />
<path d="M945.6 893C945 892.7 943.1 892.1 942.1 891.3C941 890.4 940.1 889.4 939.4 888.2C938.6 886.9 938 885.5 937.6 883.9C937.2 882.3 937 880.5 936.9 878.6C936.9 876.8 937 874.7 937.3 872.6C937.6 870.6 938.1 868.4 938.7 866.2C939.3 864 940.1 861.7 941.1 859.5C942 857.3 943.2 855.1 944.4 853C945.6 850.9 947 848.8 948.4 846.9C949.8 845 951.4 843.1 953 841.5C954.5 839.8 956.2 838.3 957.9 837C959.5 835.7 961.2 834.6 962.9 833.7C964.5 832.8 966.2 832.1 967.8 831.7C969.4 831.2 970.9 831 972.3 831C973.8 831.1 975.1 831.3 976.4 831.8C977.6 832.3 979.1 833.7 979.7 834" stroke="#000" stroke-width="1.7" fill="none" />
<ellipse cx="964.7" cy="864.7" rx="34.4" ry="18.5" transform="rotate(-60 964.7 864.7)" stroke="#fcfdfb" stroke-width="0.01" fill="#fcfdfb" />
<path d="M949.9 895.5C949.3 895.2 947.4 894.5 946.4 893.7C945.3 892.9 944.4 891.9 943.7 890.6C942.9 889.4 942.3 888 941.9 886.4C941.5 884.8 941.3 883 941.2 881.1C941.2 879.2 941.3 877.2 941.6 875.1C941.9 873 942.4 870.8 943 868.6C943.6 866.4 944.4 864.2 945.4 862C946.3 859.8 947.5 857.6 948.7 855.5C949.9 853.3 951.3 851.3 952.7 849.3C954.1 847.4 955.7 845.6 957.3 843.9C958.8 842.3 960.5 840.8 962.2 839.5C963.8 838.2 965.5 837 967.2 836.1C968.8 835.3 970.5 834.6 972.1 834.1C973.7 833.7 975.2 833.5 976.6 833.5C978.1 833.5 979.4 833.8 980.7 834.3C981.9 834.8 983.4 836.1 984 836.5" stroke="#000" stroke-width="1.7" fill="none" />
<ellipse cx="964.7" cy="864.7" rx="34.4" ry="18.5" transform="rotate(-60 964.7 864.7)" stroke="#000" stroke-width="2.2" fill="#fcfdfb" />
<ellipse cx="961.5" cy="863" rx="29.5" ry="15" transform="rotate(-60 961.5 863)" stroke="#000" stroke-width="1.8" fill="none" />
<path d="M973.6 859.8C973.2 860.7 972.3 863.3 971.5 864.9C970.6 866.6 969.7 868.3 968.7 869.9C967.7 871.4 966.6 873 965.5 874.4C964.4 875.9 963.2 877.2 962 878.4C960.8 879.6 959.5 880.8 958.3 881.7C957 882.6 955.8 883.5 954.6 884.1C953.3 884.7 952.1 885.2 951 885.5C949.9 885.8 948.7 885.9 947.7 885.8C946.7 885.8 945.8 885.5 944.9 885.1C944.1 884.7 943.3 884.1 942.7 883.4C942 882.6 941.5 881.7 941.1 880.7C940.7 879.6 940.4 878.4 940.3 877.1C940.1 875.8 940.1 874.4 940.2 872.9C940.3 871.4 940.6 869.8 940.9 868.2C941.3 866.5 942.2 864 942.4 863.2" stroke="#000" stroke-width="1.3" fill="none" />
<ellipse cx="958.9" cy="861" rx="9.5" ry="6" transform="rotate(-60 958.9 861)" stroke="#000" stroke-width="1.8" fill="#fcfdfb" />
<ellipse cx="958.9" cy="861" rx="5.5" ry="3.5" transform="rotate(-60 958.9 861)" stroke="#000" stroke-width="1.8" fill="none" />
<ellipse cx="958.9" cy="861" rx="2.8" ry="1.8" transform="rotate(-60 958.9 861)" stroke="#000" stroke-width="1.2" fill="none" />
<ellipse cx="963" cy="846" rx="3.4" ry="2" transform="rotate(-60 963 846)" stroke="#000" stroke-width="1.5" fill="none" />
<ellipse cx="950" cy="871" rx="3.4" ry="2" transform="rotate(-60 950 871)" stroke="#000" stroke-width="1.5" fill="none" />
<ellipse cx="968" cy="838" rx="3.4" ry="2" transform="rotate(-60 968 838)" stroke="#000" stroke-width="1.5" fill="none" />
<line x1="962" y1="862.5" x2="990.9" y2="877.2" stroke="#000" stroke-width="1.5" />
<ellipse cx="990.9" cy="877.2" rx="6.5" ry="4.8" transform="rotate(-60 990.9 877.2)" stroke="#000" stroke-width="1.5" fill="#fcfdfb" />
<ellipse cx="990.5" cy="877.5" rx="2" ry="1.5" transform="rotate(-60 990.5 877.5)" stroke="#000" stroke-width="1.6" fill="none" />
<path d="M993.7 878.9C993.5 879.1 993.2 879.7 992.9 880C992.6 880.4 992.3 880.7 992 881C991.7 881.3 991.3 881.5 991 881.8C990.6 882 990.2 882.2 989.9 882.3C989.5 882.4 989.1 882.5 988.8 882.6C988.4 882.6 988 882.6 987.7 882.6C987.4 882.6 987 882.5 986.7 882.3C986.4 882.2 986.1 882.1 985.8 881.8C985.6 881.6 985.3 881.4 985.1 881.1C984.9 880.8 984.7 880.5 984.6 880.2C984.5 879.8 984.4 879.5 984.3 879.1C984.2 878.7 984.2 878.3 984.2 877.9C984.2 877.5 984.3 877 984.4 876.6C984.5 876.2 984.6 875.7 984.8 875.3C984.9 874.9 985.2 874.3 985.3 874.1" stroke="#000" stroke-width="1.2" fill="none" />
<line x1="994" y1="879" x2="1011" y2="888.7" stroke="#000" stroke-width="1.5" />
<line x1="1023.3" y1="899" x2="1027.9" y2="894.2" stroke="#000" stroke-width="1.7" />
<line x1="1020.8" y1="897.6" x2="1025.4" y2="892.8" stroke="#000" stroke-width="1.7" />
<line x1="1018.3" y1="896.2" x2="1022.9" y2="891.4" stroke="#000" stroke-width="1.7" />
<line x1="1015.8" y1="894.8" x2="1020.4" y2="890" stroke="#000" stroke-width="1.7" />
<line x1="1013.3" y1="893.4" x2="1017.9" y2="888.6" stroke="#000" stroke-width="1.7" />
<line x1="1010.8" y1="892" x2="1015.4" y2="887.2" stroke="#000" stroke-width="1.7" />
<line x1="1008.3" y1="890.6" x2="1012.9" y2="885.8" stroke="#000" stroke-width="1.7" />
<line x1="1024" y1="899.4" x2="1009" y2="891" stroke="#000" stroke-width="1.1" />
<line x1="1027.2" y1="893.8" x2="1012.2" y2="885.4" stroke="#000" stroke-width="1.1" />
<path d="M1025.8 893.1L1030.3 892L1031.7 896.4L1028.6 901.9L1024.1 903L1022.7 898.6Z" stroke="#000" stroke-width="1.4" fill="#fcfdfb" />
<path d="M1028.4 894.6L1032.9 893.5L1034.3 897.9L1031.2 903.4L1026.7 904.5L1025.3 900.1Z" stroke="#000" stroke-width="1.7" fill="#fcfdfb" />
<ellipse cx="1029.8" cy="899" rx="2.6" ry="4.4" transform="rotate(-150.7 1029.8 899)" stroke="#000" stroke-width="1.0" fill="none" />
<line x1="1133.6" y1="149.3" x2="969.5" y2="430.6" stroke="#000" stroke-width="1.8" />
<line x1="1132.5" y1="266.5" x2="1035.6" y2="433.2" stroke="#000" stroke-width="1.8" />
<ellipse cx="966.5" cy="436" rx="8.2" ry="4.4" transform="rotate(30 966.5 436)" stroke="#000" stroke-width="3" fill="#fcfdfb" />
<ellipse cx="1032.6" cy="438.6" rx="8.2" ry="4.4" transform="rotate(30 1032.6 438.6)" stroke="#000" stroke-width="3" fill="#fcfdfb" />
<line x1="963.7" y1="442" x2="947.8" y2="469.5" stroke="#000" stroke-width="1.7" />
<line x1="1028.8" y1="445.9" x2="1013.5" y2="472" stroke="#000" stroke-width="1.7" />
<text x="69" y="225.8" font-size="20" text-anchor="middle" fill="#000" letter-spacing="-0.5">31</text>
<text x="197" y="308.8" font-size="20" text-anchor="middle" fill="#000" letter-spacing="-0.5">31</text>
<text x="36" y="279.8" font-size="20" text-anchor="middle" fill="#000" letter-spacing="-0.5">25</text>
<text x="426.8" y="311.2" font-size="20" text-anchor="middle" fill="#000" letter-spacing="-0.5">30</text>
<text x="440" y="386.5" font-size="20" text-anchor="middle" fill="#000" letter-spacing="-0.5">29</text>
<text x="159" y="371.8" font-size="20" text-anchor="middle" fill="#000" letter-spacing="-0.5">1</text>
<text x="117" y="422.3" font-size="20" text-anchor="middle" fill="#000" letter-spacing="-0.5">24</text>
<text x="305" y="443.3" font-size="20" text-anchor="middle" fill="#000" letter-spacing="-0.5">4</text>
<text x="128.9" y="508.8" font-size="20" text-anchor="middle" fill="#000" letter-spacing="-0.5">23</text>
<text x="471" y="457.8" font-size="20" text-anchor="middle" fill="#000" letter-spacing="-0.5">22</text>
<text x="56.2" y="544.1" font-size="20" text-anchor="middle" fill="#000" letter-spacing="-0.5">28</text>
<text x="99.4" y="574.2" font-size="20" text-anchor="middle" fill="#000" letter-spacing="-0.5">27</text>
<text x="154" y="605" font-size="20" text-anchor="middle" fill="#000" letter-spacing="-0.5">26</text>
<text x="409.8" y="594.5" font-size="20" text-anchor="middle" fill="#000" letter-spacing="-0.5">5</text>
<text x="509.4" y="557.9" font-size="20" text-anchor="middle" fill="#000" letter-spacing="-0.5">6</text>
<text x="558.2" y="579" font-size="20" text-anchor="middle" fill="#000" letter-spacing="-0.5">8</text>
<text x="610.8" y="607.5" font-size="20" text-anchor="middle" fill="#000" letter-spacing="-0.5">5</text>
<text x="666.1" y="610.7" font-size="20" text-anchor="middle" fill="#000" letter-spacing="-0.5">12</text>
<text x="460.2" y="626.2" font-size="20" text-anchor="middle" fill="#000" letter-spacing="-0.5">7</text>
<text x="501.4" y="652.9" font-size="20" text-anchor="middle" fill="#000" letter-spacing="-0.5">9</text>
<text x="444.1" y="684.4" font-size="20" text-anchor="middle" fill="#000" letter-spacing="-0.5">13</text>
<text x="414.4" y="702.9" font-size="20" text-anchor="middle" fill="#000" letter-spacing="-0.5">14</text>
<text x="748.2" y="632.1" font-size="20" text-anchor="middle" fill="#000" letter-spacing="-0.5">21</text>
<text x="690.4" y="657.2" font-size="20" text-anchor="middle" fill="#000" letter-spacing="-0.5">10</text>
<text x="745.4" y="684" font-size="20" text-anchor="middle" fill="#000" letter-spacing="-0.5">10</text>
<text x="650.6" y="728.2" font-size="20" text-anchor="middle" fill="#000" letter-spacing="-0.5">11</text>
<text x="703.3" y="761.7" font-size="20" text-anchor="middle" fill="#000" letter-spacing="-0.5">5</text>
<text x="756.2" y="791.2" font-size="20" text-anchor="middle" fill="#000" letter-spacing="-0.5">8</text>
<text x="802" y="725.9" font-size="20" text-anchor="middle" fill="#000" letter-spacing="-0.5">9</text>
<text x="854.3" y="750" font-size="20" text-anchor="middle" fill="#000" letter-spacing="-0.5">7</text>
<text x="907.9" y="784.2" font-size="20" text-anchor="middle" fill="#000" letter-spacing="-0.5">5</text>
<text x="804.5" y="819.7" font-size="20" text-anchor="middle" fill="#000" letter-spacing="-0.5">6</text>
<text x="860.7" y="848.5" font-size="20" text-anchor="middle" fill="#000" letter-spacing="-0.5">4</text>
<text x="988.4" y="807.9" font-size="20" text-anchor="middle" fill="#000" letter-spacing="-0.5">3</text>
<text x="1019.5" y="860.1" font-size="20" text-anchor="middle" fill="#000" letter-spacing="-0.5">2</text>
<text x="1047.4" y="878.9" font-size="20" text-anchor="middle" fill="#000" letter-spacing="-0.5">1</text>
<text x="517.8" y="771.2" font-size="20" text-anchor="middle" fill="#000" letter-spacing="-0.5">15</text>
<text x="568.3" y="797.1" font-size="20" text-anchor="middle" fill="#000" letter-spacing="-0.5">16</text>
<text x="600.4" y="819.6" font-size="20" text-anchor="middle" fill="#000" letter-spacing="-0.5">17</text>
<text x="305.3" y="765.8" font-size="20" text-anchor="middle" fill="#000" letter-spacing="-0.5">20</text>
<text x="348.1" y="791.3" font-size="20" text-anchor="middle" fill="#000" letter-spacing="-0.5">14</text>
<text x="399.3" y="827.5" font-size="20" text-anchor="middle" fill="#000" letter-spacing="-0.5">18</text>
<text x="473" y="860.6" font-size="20" text-anchor="middle" fill="#000" letter-spacing="-0.5">19</text>
<text x="187.7" y="662.3" font-size="20" text-anchor="middle" fill="#000" letter-spacing="-0.5">34</text>
<text x="39.5" y="640.4" font-size="20" text-anchor="middle" fill="#000" letter-spacing="-0.5">35</text>
<text x="39.5" y="673.8" font-size="20" text-anchor="middle" fill="#000" letter-spacing="-0.5">27</text>
<text x="39.5" y="708.8" font-size="20" text-anchor="middle" fill="#000" letter-spacing="-0.5">36</text>
<text x="39.5" y="776.8" font-size="20" text-anchor="middle" fill="#000" letter-spacing="-0.5">37</text>
<text x="747" y="348.8" font-size="20" text-anchor="middle" fill="#000" letter-spacing="-0.5">29</text>
<text x="910.8" y="416" font-size="20" text-anchor="middle" fill="#000" letter-spacing="-0.5">31</text>
<text x="884" y="478.8" font-size="20" text-anchor="middle" fill="#000" letter-spacing="-0.5">33</text>
<text x="1044" y="532.8" font-size="20" text-anchor="middle" fill="#000" letter-spacing="-0.5">32</text>
<text x="1082" y="474.8" font-size="20" text-anchor="middle" fill="#000" letter-spacing="-0.5">31</text>
<line x1="82.7" y1="230" x2="115" y2="248" stroke="#000" stroke-width="1.7" />
<line x1="182" y1="291" x2="150" y2="274" stroke="#000" stroke-width="1.7" />
<line x1="49" y1="282" x2="80" y2="299" stroke="#000" stroke-width="1.7" />
<line x1="362.5" y1="304.4" x2="413.8" y2="304.4" stroke="#000" stroke-width="1.7" />
<line x1="382.6" y1="377.3" x2="430.8" y2="377.3" stroke="#000" stroke-width="1.7" />
<line x1="155" y1="368" x2="134" y2="379" stroke="#000" stroke-width="1.7" />
<line x1="125" y1="413.5" x2="150" y2="399" stroke="#000" stroke-width="1.7" />
<line x1="300" y1="442.5" x2="277" y2="455.6" stroke="#000" stroke-width="1.7" />
<line x1="142.3" y1="498.8" x2="177.4" y2="480.3" stroke="#000" stroke-width="1.7" />
<line x1="461" y1="457.2" x2="434" y2="472.6" stroke="#000" stroke-width="1.7" />
<line x1="67" y1="534" x2="97" y2="519" stroke="#000" stroke-width="1.7" />
<line x1="108.8" y1="562.4" x2="137.3" y2="544" stroke="#000" stroke-width="1.7" />
<line x1="164" y1="594.2" x2="200.9" y2="577.4" stroke="#000" stroke-width="1.7" />
<line x1="415.9" y1="585.1" x2="438" y2="573.7" stroke="#000" stroke-width="1.7" />
<line x1="503.4" y1="553.7" x2="480.3" y2="566.2" stroke="#000" stroke-width="1.7" />
<line x1="552.6" y1="577.8" x2="526.5" y2="592.7" stroke="#000" stroke-width="1.7" />
<line x1="605.8" y1="605.3" x2="578.7" y2="621.4" stroke="#000" stroke-width="1.7" />
<line x1="657" y1="609.4" x2="620.9" y2="629.4" stroke="#000" stroke-width="1.7" />
<line x1="468.2" y1="615.4" x2="491.3" y2="602.3" stroke="#000" stroke-width="1.7" />
<line x1="507.4" y1="643.5" x2="534.5" y2="628.4" stroke="#000" stroke-width="1.7" />
<line x1="453.1" y1="683.7" x2="480.3" y2="698.7" stroke="#000" stroke-width="1.7" />
<line x1="423.4" y1="700.1" x2="448.5" y2="715.2" stroke="#000" stroke-width="1.7" />
<line x1="713" y1="609.6" x2="736.4" y2="622" stroke="#000" stroke-width="1.7" />
<line x1="683.8" y1="655.7" x2="664.7" y2="667.1" stroke="#000" stroke-width="1.7" />
<line x1="735" y1="681.2" x2="712.9" y2="693.8" stroke="#000" stroke-width="1.7" />
<line x1="659.7" y1="720.4" x2="684.8" y2="706.3" stroke="#000" stroke-width="1.7" />
<line x1="709.9" y1="751.5" x2="729" y2="741.4" stroke="#000" stroke-width="1.7" />
<line x1="761.3" y1="782.8" x2="782.4" y2="771.4" stroke="#000" stroke-width="1.7" />
<line x1="793.4" y1="720.1" x2="768.3" y2="735.2" stroke="#000" stroke-width="1.7" />
<line x1="846.6" y1="747.3" x2="820.5" y2="761.9" stroke="#000" stroke-width="1.7" />
<line x1="899.9" y1="781.4" x2="874.8" y2="795.5" stroke="#000" stroke-width="1.7" />
<line x1="810.5" y1="810.1" x2="831.6" y2="798.5" stroke="#000" stroke-width="1.7" />
<line x1="866.7" y1="838.3" x2="887.8" y2="826.6" stroke="#000" stroke-width="1.7" />
<line x1="982.4" y1="803.6" x2="957.6" y2="818.2" stroke="#000" stroke-width="1.7" />
<line x1="1013.2" y1="857.9" x2="993.5" y2="869.5" stroke="#000" stroke-width="1.7" />
<line x1="1043.1" y1="877.2" x2="1021.7" y2="889.2" stroke="#000" stroke-width="1.7" />
<line x1="527.9" y1="760.4" x2="551" y2="746.3" stroke="#000" stroke-width="1.7" />
<line x1="577.3" y1="789.7" x2="600.4" y2="776.6" stroke="#000" stroke-width="1.7" />
<line x1="610.4" y1="809.7" x2="632.5" y2="796.7" stroke="#000" stroke-width="1.7" />
<line x1="318" y1="754" x2="346.5" y2="741" stroke="#000" stroke-width="1.7" />
<line x1="359.1" y1="780.5" x2="385.2" y2="764.4" stroke="#000" stroke-width="1.7" />
<line x1="409.3" y1="814.6" x2="439.5" y2="797.6" stroke="#000" stroke-width="1.7" />
<line x1="483.7" y1="848.8" x2="510.8" y2="834.3" stroke="#000" stroke-width="1.7" />
<line x1="200.1" y1="661.5" x2="230.3" y2="678.6" stroke="#000" stroke-width="1.7" />
<line x1="51" y1="640" x2="79" y2="655" stroke="#000" stroke-width="1.7" />
<line x1="51" y1="673" x2="79" y2="688" stroke="#000" stroke-width="1.7" />
<line x1="51" y1="708" x2="77" y2="723" stroke="#000" stroke-width="1.7" />
<line x1="51.7" y1="770.6" x2="75.5" y2="765.5" stroke="#000" stroke-width="1.7" />
<line x1="51.7" y1="770.6" x2="70.4" y2="781.6" stroke="#000" stroke-width="1.7" />
<line x1="761" y1="339.5" x2="790" y2="339.5" stroke="#000" stroke-width="1.7" />
<line x1="926.1" y1="415" x2="959.9" y2="433.4" stroke="#000" stroke-width="1.7" />
<line x1="897" y1="476" x2="930" y2="495" stroke="#000" stroke-width="1.7" />
<line x1="1033.9" y1="520" x2="1000" y2="501.4" stroke="#000" stroke-width="1.7" />
<line x1="1066" y1="459.5" x2="1039.6" y2="444" stroke="#000" stroke-width="1.7" />
</svg>
</body></html>
